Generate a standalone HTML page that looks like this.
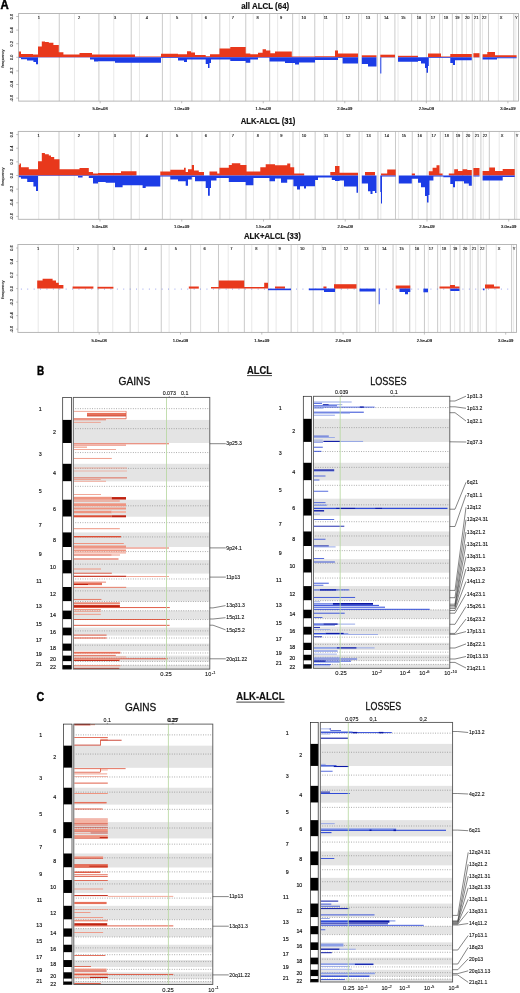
<!DOCTYPE html>
<html><head><meta charset="utf-8"><title>ALCL copy number figure</title>
<style>html,body{margin:0;padding:0;background:#fff;overflow:hidden}svg{display:block;will-change:transform}</style></head>
<body><svg width="520" height="993" viewBox="0 0 520 993" font-family="Liberation Sans, sans-serif">
<rect x="0" y="0" width="520" height="993" fill="#fff"/>
<text x="241.2" y="8.7" font-size="9.6" font-weight="bold" textLength="48.0" lengthAdjust="spacingAndGlyphs" fill="#111" stroke="#111" stroke-width="0.2">all ALCL (64)</text>
<line x1="38.99" y1="13.5" x2="38.99" y2="101.1" stroke="#e2e2e2" stroke-width="0.8"/>
<line x1="74.47" y1="13.5" x2="74.47" y2="101.1" stroke="#e2e2e2" stroke-width="0.8"/>
<line x1="113.76" y1="13.5" x2="113.76" y2="101.1" stroke="#e2e2e2" stroke-width="0.8"/>
<line x1="139.44" y1="13.5" x2="139.44" y2="101.1" stroke="#e2e2e2" stroke-width="0.8"/>
<line x1="170.29" y1="13.5" x2="170.29" y2="101.1" stroke="#e2e2e2" stroke-width="0.8"/>
<line x1="201.85" y1="13.5" x2="201.85" y2="101.1" stroke="#e2e2e2" stroke-width="0.8"/>
<line x1="229.58" y1="13.5" x2="229.58" y2="101.1" stroke="#e2e2e2" stroke-width="0.8"/>
<line x1="253.20" y1="13.5" x2="253.20" y2="101.1" stroke="#e2e2e2" stroke-width="0.8"/>
<line x1="277.63" y1="13.5" x2="277.63" y2="101.1" stroke="#e2e2e2" stroke-width="0.8"/>
<line x1="299.22" y1="13.5" x2="299.22" y2="101.1" stroke="#e2e2e2" stroke-width="0.8"/>
<line x1="323.53" y1="13.5" x2="323.53" y2="101.1" stroke="#e2e2e2" stroke-width="0.8"/>
<line x1="342.63" y1="13.5" x2="342.63" y2="101.1" stroke="#e2e2e2" stroke-width="0.8"/>
<line x1="361.54" y1="13.5" x2="361.54" y2="101.1" stroke="#e2e2e2" stroke-width="0.8"/>
<line x1="380.28" y1="13.5" x2="380.28" y2="101.1" stroke="#e2e2e2" stroke-width="0.8"/>
<line x1="398.02" y1="13.5" x2="398.02" y2="101.1" stroke="#e2e2e2" stroke-width="0.8"/>
<line x1="417.61" y1="13.5" x2="417.61" y2="101.1" stroke="#e2e2e2" stroke-width="0.8"/>
<line x1="430.29" y1="13.5" x2="430.29" y2="101.1" stroke="#e2e2e2" stroke-width="0.8"/>
<line x1="442.43" y1="13.5" x2="442.43" y2="101.1" stroke="#e2e2e2" stroke-width="0.8"/>
<line x1="456.68" y1="13.5" x2="456.68" y2="101.1" stroke="#e2e2e2" stroke-width="0.8"/>
<line x1="466.48" y1="13.5" x2="466.48" y2="101.1" stroke="#e2e2e2" stroke-width="0.8"/>
<line x1="474.43" y1="13.5" x2="474.43" y2="101.1" stroke="#e2e2e2" stroke-width="0.8"/>
<line x1="482.53" y1="13.5" x2="482.53" y2="101.1" stroke="#e2e2e2" stroke-width="0.8"/>
<line x1="498.38" y1="13.5" x2="498.38" y2="101.1" stroke="#e2e2e2" stroke-width="0.8"/>
<line x1="515.86" y1="13.5" x2="515.86" y2="101.1" stroke="#e2e2e2" stroke-width="0.8"/>
<line x1="59.25" y1="13.5" x2="59.25" y2="101.1" stroke="#c4c4c4" stroke-width="0.9"/>
<line x1="98.92" y1="13.5" x2="98.92" y2="101.1" stroke="#c4c4c4" stroke-width="0.9"/>
<line x1="131.22" y1="13.5" x2="131.22" y2="101.1" stroke="#c4c4c4" stroke-width="0.9"/>
<line x1="162.39" y1="13.5" x2="162.39" y2="101.1" stroke="#c4c4c4" stroke-width="0.9"/>
<line x1="191.90" y1="13.5" x2="191.90" y2="101.1" stroke="#c4c4c4" stroke-width="0.9"/>
<line x1="219.81" y1="13.5" x2="219.81" y2="101.1" stroke="#c4c4c4" stroke-width="0.9"/>
<line x1="245.77" y1="13.5" x2="245.77" y2="101.1" stroke="#c4c4c4" stroke-width="0.9"/>
<line x1="269.64" y1="13.5" x2="269.64" y2="101.1" stroke="#c4c4c4" stroke-width="0.9"/>
<line x1="292.67" y1="13.5" x2="292.67" y2="101.1" stroke="#c4c4c4" stroke-width="0.9"/>
<line x1="314.77" y1="13.5" x2="314.77" y2="101.1" stroke="#c4c4c4" stroke-width="0.9"/>
<line x1="336.79" y1="13.5" x2="336.79" y2="101.1" stroke="#c4c4c4" stroke-width="0.9"/>
<line x1="358.62" y1="13.5" x2="358.62" y2="101.1" stroke="#c4c4c4" stroke-width="0.9"/>
<line x1="377.41" y1="13.5" x2="377.41" y2="101.1" stroke="#c4c4c4" stroke-width="0.9"/>
<line x1="394.92" y1="13.5" x2="394.92" y2="101.1" stroke="#c4c4c4" stroke-width="0.9"/>
<line x1="411.64" y1="13.5" x2="411.64" y2="101.1" stroke="#c4c4c4" stroke-width="0.9"/>
<line x1="426.38" y1="13.5" x2="426.38" y2="101.1" stroke="#c4c4c4" stroke-width="0.9"/>
<line x1="439.62" y1="13.5" x2="439.62" y2="101.1" stroke="#c4c4c4" stroke-width="0.9"/>
<line x1="452.35" y1="13.5" x2="452.35" y2="101.1" stroke="#c4c4c4" stroke-width="0.9"/>
<line x1="462.00" y1="13.5" x2="462.00" y2="101.1" stroke="#c4c4c4" stroke-width="0.9"/>
<line x1="472.28" y1="13.5" x2="472.28" y2="101.1" stroke="#c4c4c4" stroke-width="0.9"/>
<line x1="480.13" y1="13.5" x2="480.13" y2="101.1" stroke="#c4c4c4" stroke-width="0.9"/>
<line x1="488.50" y1="13.5" x2="488.50" y2="101.1" stroke="#c4c4c4" stroke-width="0.9"/>
<line x1="513.82" y1="13.5" x2="513.82" y2="101.1" stroke="#c4c4c4" stroke-width="0.9"/>
<text x="38.93" y="19.1" font-size="4.0" text-anchor="middle" fill="#1a1a1a" stroke="#1a1a1a" stroke-width="0.15">1</text>
<text x="79.09" y="19.1" font-size="4.0" text-anchor="middle" fill="#1a1a1a" stroke="#1a1a1a" stroke-width="0.15">2</text>
<text x="115.07" y="19.1" font-size="4.0" text-anchor="middle" fill="#1a1a1a" stroke="#1a1a1a" stroke-width="0.15">3</text>
<text x="146.80" y="19.1" font-size="4.0" text-anchor="middle" fill="#1a1a1a" stroke="#1a1a1a" stroke-width="0.15">4</text>
<text x="177.15" y="19.1" font-size="4.0" text-anchor="middle" fill="#1a1a1a" stroke="#1a1a1a" stroke-width="0.15">5</text>
<text x="205.86" y="19.1" font-size="4.0" text-anchor="middle" fill="#1a1a1a" stroke="#1a1a1a" stroke-width="0.15">6</text>
<text x="232.79" y="19.1" font-size="4.0" text-anchor="middle" fill="#1a1a1a" stroke="#1a1a1a" stroke-width="0.15">7</text>
<text x="257.70" y="19.1" font-size="4.0" text-anchor="middle" fill="#1a1a1a" stroke="#1a1a1a" stroke-width="0.15">8</text>
<text x="281.15" y="19.1" font-size="4.0" text-anchor="middle" fill="#1a1a1a" stroke="#1a1a1a" stroke-width="0.15">9</text>
<text x="303.72" y="19.1" font-size="4.0" text-anchor="middle" fill="#1a1a1a" stroke="#1a1a1a" stroke-width="0.15">10</text>
<text x="325.78" y="19.1" font-size="4.0" text-anchor="middle" fill="#1a1a1a" stroke="#1a1a1a" stroke-width="0.15">11</text>
<text x="347.71" y="19.1" font-size="4.0" text-anchor="middle" fill="#1a1a1a" stroke="#1a1a1a" stroke-width="0.15">12</text>
<text x="368.02" y="19.1" font-size="4.0" text-anchor="middle" fill="#1a1a1a" stroke="#1a1a1a" stroke-width="0.15">13</text>
<text x="386.16" y="19.1" font-size="4.0" text-anchor="middle" fill="#1a1a1a" stroke="#1a1a1a" stroke-width="0.15">14</text>
<text x="403.28" y="19.1" font-size="4.0" text-anchor="middle" fill="#1a1a1a" stroke="#1a1a1a" stroke-width="0.15">15</text>
<text x="419.01" y="19.1" font-size="4.0" text-anchor="middle" fill="#1a1a1a" stroke="#1a1a1a" stroke-width="0.15">16</text>
<text x="433.00" y="19.1" font-size="4.0" text-anchor="middle" fill="#1a1a1a" stroke="#1a1a1a" stroke-width="0.15">17</text>
<text x="445.99" y="19.1" font-size="4.0" text-anchor="middle" fill="#1a1a1a" stroke="#1a1a1a" stroke-width="0.15">18</text>
<text x="457.18" y="19.1" font-size="4.0" text-anchor="middle" fill="#1a1a1a" stroke="#1a1a1a" stroke-width="0.15">19</text>
<text x="467.14" y="19.1" font-size="4.0" text-anchor="middle" fill="#1a1a1a" stroke="#1a1a1a" stroke-width="0.15">20</text>
<text x="476.20" y="19.1" font-size="4.0" text-anchor="middle" fill="#1a1a1a" stroke="#1a1a1a" stroke-width="0.15">21</text>
<text x="484.31" y="19.1" font-size="4.0" text-anchor="middle" fill="#1a1a1a" stroke="#1a1a1a" stroke-width="0.15">22</text>
<text x="501.16" y="19.1" font-size="4.0" text-anchor="middle" fill="#1a1a1a" stroke="#1a1a1a" stroke-width="0.15">X</text>
<text x="516.22" y="19.1" font-size="4.0" text-anchor="middle" fill="#1a1a1a" stroke="#1a1a1a" stroke-width="0.15">Y</text>
<polygon points="18.50,57.30 18.50,51.60 21.00,51.60 21.00,54.00 33.00,54.00 33.00,54.60 38.00,54.60 38.00,46.50 41.80,46.50 41.80,41.50 45.00,41.50 45.00,42.00 48.80,42.00 48.80,42.70 53.40,42.70 53.40,45.00 58.80,45.00 58.80,52.20 63.40,52.20 63.40,54.50 79.50,54.50 79.50,52.90 92.00,52.90 92.00,54.50 98.00,54.50 98.00,54.60 135.00,54.60 135.00,56.50 161.00,56.50 161.00,53.80 178.00,53.80 178.00,54.20 187.00,54.20 187.00,51.20 191.00,51.20 191.00,52.50 195.00,52.50 195.00,55.00 205.70,55.00 205.70,56.30 210.00,56.30 210.00,54.20 219.50,54.20 219.50,48.50 230.30,48.50 230.30,47.00 245.70,47.00 245.70,53.50 250.30,53.50 250.30,54.20 258.00,54.20 258.00,52.70 262.60,52.70 262.60,49.20 266.00,49.20 266.00,50.50 270.30,50.50 270.30,53.20 275.00,53.20 275.00,51.60 291.80,51.60 291.80,56.50 315.00,56.50 315.00,56.20 335.00,56.20 335.00,50.40 338.00,50.40 338.00,53.50 358.00,53.50 358.00,57.30" fill="#e8381c"/>
<polygon points="361.80,57.30 361.80,55.30 376.50,55.30 376.50,57.30" fill="#e8381c"/>
<polygon points="380.30,57.30 380.30,54.70 395.00,54.70 395.00,57.30" fill="#e8381c"/>
<polygon points="398.00,57.30 398.00,55.80 418.00,55.80 418.00,57.30" fill="#e8381c"/>
<polygon points="428.00,57.30 428.00,53.50 441.00,53.50 441.00,56.50 450.30,56.50 450.30,54.00 471.80,54.00 471.80,57.30" fill="#e8381c"/>
<polygon points="473.40,57.30 473.40,53.20 479.50,53.20 479.50,57.30" fill="#e8381c"/>
<polygon points="482.60,57.30 482.60,54.20 487.30,54.20 487.30,52.00 495.00,52.00 495.00,55.20 516.60,55.20 516.60,57.30" fill="#e8381c"/>
<polygon points="18.50,57.30 18.50,58.00 21.00,58.00 21.00,59.20 27.00,59.20 27.00,60.40 33.40,60.40 33.40,62.00 36.00,62.00 36.00,64.20 38.00,64.20 38.00,57.50 90.00,57.50 90.00,59.60 94.00,59.60 94.00,61.50 98.00,61.50 98.00,61.20 115.00,61.20 115.00,62.70 135.00,62.70 135.00,62.80 161.00,62.80 161.00,58.00 178.00,58.00 178.00,60.40 184.00,60.40 184.00,62.00 187.00,62.00 187.00,59.60 205.70,59.60 205.70,64.00 208.00,64.00 208.00,68.00 209.50,68.00 209.50,63.00 211.00,63.00 211.00,59.60 230.30,59.60 230.30,61.00 245.70,61.00 245.70,62.70 250.30,62.70 250.30,59.60 258.00,59.60 258.00,57.80 269.50,57.80 269.50,61.50 285.00,61.50 285.00,63.00 295.00,63.00 295.00,64.50 299.00,64.50 299.00,62.50 315.00,62.50 315.00,60.00 338.00,60.00 338.00,58.00 342.60,58.00 342.60,63.50 358.00,63.50 358.00,57.30" fill="#1c3ce6"/>
<polygon points="361.80,57.30 361.80,64.00 368.00,64.00 368.00,66.50 376.50,66.50 376.50,57.30" fill="#1c3ce6"/>
<polygon points="380.30,57.30 380.30,73.50 381.30,73.50 381.30,57.60 395.00,57.60 395.00,57.30" fill="#1c3ce6"/>
<polygon points="398.00,57.30 398.00,61.80 418.00,61.80 418.00,61.00 421.00,61.00 421.00,63.50 425.00,63.50 425.00,68.00 426.50,68.00 426.50,72.70 428.00,72.70 428.00,66.00 428.80,66.00 428.80,58.00 450.30,58.00 450.30,63.00 453.00,63.00 453.00,65.00 455.00,65.00 455.00,60.30 471.80,60.30 471.80,57.30" fill="#1c3ce6"/>
<polygon points="473.40,57.30 473.40,57.50 479.50,57.50 479.50,57.30" fill="#1c3ce6"/>
<polygon points="482.60,57.30 482.60,59.50 497.00,59.50 497.00,58.20 516.60,58.20 516.60,57.30" fill="#1c3ce6"/>
<rect x="18.60" y="13.5" width="499.90" height="87.6" fill="none" stroke="#b0b0b0" stroke-width="0.9"/>
<line x1="16.2" y1="16.50" x2="18.6" y2="16.50" stroke="#999" stroke-width="0.6"/>
<text transform="translate(13.0,16.50) rotate(-90)" font-size="3.9" text-anchor="middle" fill="#222" stroke="#222" stroke-width="0.15">0.6</text>
<line x1="16.2" y1="30.10" x2="18.6" y2="30.10" stroke="#999" stroke-width="0.6"/>
<text transform="translate(13.0,30.10) rotate(-90)" font-size="3.9" text-anchor="middle" fill="#222" stroke="#222" stroke-width="0.15">0.4</text>
<line x1="16.2" y1="43.70" x2="18.6" y2="43.70" stroke="#999" stroke-width="0.6"/>
<text transform="translate(13.0,43.70) rotate(-90)" font-size="3.9" text-anchor="middle" fill="#222" stroke="#222" stroke-width="0.15">0.2</text>
<line x1="16.2" y1="57.30" x2="18.6" y2="57.30" stroke="#999" stroke-width="0.6"/>
<text transform="translate(13.0,57.30) rotate(-90)" font-size="3.9" text-anchor="middle" fill="#222" stroke="#222" stroke-width="0.15">0.0</text>
<line x1="16.2" y1="70.90" x2="18.6" y2="70.90" stroke="#999" stroke-width="0.6"/>
<text transform="translate(13.0,70.90) rotate(-90)" font-size="3.9" text-anchor="middle" fill="#222" stroke="#222" stroke-width="0.15">-0.2</text>
<line x1="16.2" y1="84.50" x2="18.6" y2="84.50" stroke="#999" stroke-width="0.6"/>
<text transform="translate(13.0,84.50) rotate(-90)" font-size="3.9" text-anchor="middle" fill="#222" stroke="#222" stroke-width="0.15">-0.4</text>
<line x1="16.2" y1="98.10" x2="18.6" y2="98.10" stroke="#999" stroke-width="0.6"/>
<text transform="translate(13.0,98.10) rotate(-90)" font-size="3.9" text-anchor="middle" fill="#222" stroke="#222" stroke-width="0.15">-0.6</text>
<text transform="translate(4.3,58.40) rotate(-90)" font-size="4.15" text-anchor="middle" fill="#222" stroke="#222" stroke-width="0.12">frequency</text>
<line x1="100.15" y1="101.1" x2="100.15" y2="103.3" stroke="#999" stroke-width="0.6"/>
<text x="100.15" y="110.2" font-size="4.2" text-anchor="middle" fill="#1a1a1a" stroke="#1a1a1a" stroke-width="0.18">5.0e+08</text>
<line x1="181.70" y1="101.1" x2="181.70" y2="103.3" stroke="#999" stroke-width="0.6"/>
<text x="181.70" y="110.2" font-size="4.2" text-anchor="middle" fill="#1a1a1a" stroke="#1a1a1a" stroke-width="0.18">1.0e+09</text>
<line x1="263.25" y1="101.1" x2="263.25" y2="103.3" stroke="#999" stroke-width="0.6"/>
<text x="263.25" y="110.2" font-size="4.2" text-anchor="middle" fill="#1a1a1a" stroke="#1a1a1a" stroke-width="0.18">1.5e+09</text>
<line x1="344.80" y1="101.1" x2="344.80" y2="103.3" stroke="#999" stroke-width="0.6"/>
<text x="344.80" y="110.2" font-size="4.2" text-anchor="middle" fill="#1a1a1a" stroke="#1a1a1a" stroke-width="0.18">2.0e+09</text>
<line x1="426.35" y1="101.1" x2="426.35" y2="103.3" stroke="#999" stroke-width="0.6"/>
<text x="426.35" y="110.2" font-size="4.2" text-anchor="middle" fill="#1a1a1a" stroke="#1a1a1a" stroke-width="0.18">2.5e+09</text>
<line x1="507.90" y1="101.1" x2="507.90" y2="103.3" stroke="#999" stroke-width="0.6"/>
<text x="507.90" y="110.2" font-size="4.2" text-anchor="middle" fill="#1a1a1a" stroke="#1a1a1a" stroke-width="0.18">3.0e+09</text>
<text x="240.8" y="123.8" font-size="9.6" font-weight="bold" textLength="54.6" lengthAdjust="spacingAndGlyphs" fill="#111" stroke="#111" stroke-width="0.2">ALK-ALCL (31)</text>
<line x1="38.69" y1="131.4" x2="38.69" y2="219.3" stroke="#e2e2e2" stroke-width="0.8"/>
<line x1="74.26" y1="131.4" x2="74.26" y2="219.3" stroke="#e2e2e2" stroke-width="0.8"/>
<line x1="113.64" y1="131.4" x2="113.64" y2="219.3" stroke="#e2e2e2" stroke-width="0.8"/>
<line x1="139.38" y1="131.4" x2="139.38" y2="219.3" stroke="#e2e2e2" stroke-width="0.8"/>
<line x1="170.31" y1="131.4" x2="170.31" y2="219.3" stroke="#e2e2e2" stroke-width="0.8"/>
<line x1="201.95" y1="131.4" x2="201.95" y2="219.3" stroke="#e2e2e2" stroke-width="0.8"/>
<line x1="229.75" y1="131.4" x2="229.75" y2="219.3" stroke="#e2e2e2" stroke-width="0.8"/>
<line x1="253.43" y1="131.4" x2="253.43" y2="219.3" stroke="#e2e2e2" stroke-width="0.8"/>
<line x1="277.91" y1="131.4" x2="277.91" y2="219.3" stroke="#e2e2e2" stroke-width="0.8"/>
<line x1="299.56" y1="131.4" x2="299.56" y2="219.3" stroke="#e2e2e2" stroke-width="0.8"/>
<line x1="323.93" y1="131.4" x2="323.93" y2="219.3" stroke="#e2e2e2" stroke-width="0.8"/>
<line x1="343.08" y1="131.4" x2="343.08" y2="219.3" stroke="#e2e2e2" stroke-width="0.8"/>
<line x1="362.03" y1="131.4" x2="362.03" y2="219.3" stroke="#e2e2e2" stroke-width="0.8"/>
<line x1="380.82" y1="131.4" x2="380.82" y2="219.3" stroke="#e2e2e2" stroke-width="0.8"/>
<line x1="398.60" y1="131.4" x2="398.60" y2="219.3" stroke="#e2e2e2" stroke-width="0.8"/>
<line x1="418.24" y1="131.4" x2="418.24" y2="219.3" stroke="#e2e2e2" stroke-width="0.8"/>
<line x1="430.95" y1="131.4" x2="430.95" y2="219.3" stroke="#e2e2e2" stroke-width="0.8"/>
<line x1="443.11" y1="131.4" x2="443.11" y2="219.3" stroke="#e2e2e2" stroke-width="0.8"/>
<line x1="457.40" y1="131.4" x2="457.40" y2="219.3" stroke="#e2e2e2" stroke-width="0.8"/>
<line x1="467.23" y1="131.4" x2="467.23" y2="219.3" stroke="#e2e2e2" stroke-width="0.8"/>
<line x1="475.20" y1="131.4" x2="475.20" y2="219.3" stroke="#e2e2e2" stroke-width="0.8"/>
<line x1="483.31" y1="131.4" x2="483.31" y2="219.3" stroke="#e2e2e2" stroke-width="0.8"/>
<line x1="499.21" y1="131.4" x2="499.21" y2="219.3" stroke="#e2e2e2" stroke-width="0.8"/>
<line x1="516.73" y1="131.4" x2="516.73" y2="219.3" stroke="#e2e2e2" stroke-width="0.8"/>
<line x1="59.00" y1="131.4" x2="59.00" y2="219.3" stroke="#c4c4c4" stroke-width="0.9"/>
<line x1="98.77" y1="131.4" x2="98.77" y2="219.3" stroke="#c4c4c4" stroke-width="0.9"/>
<line x1="131.14" y1="131.4" x2="131.14" y2="219.3" stroke="#c4c4c4" stroke-width="0.9"/>
<line x1="162.39" y1="131.4" x2="162.39" y2="219.3" stroke="#c4c4c4" stroke-width="0.9"/>
<line x1="191.98" y1="131.4" x2="191.98" y2="219.3" stroke="#c4c4c4" stroke-width="0.9"/>
<line x1="219.95" y1="131.4" x2="219.95" y2="219.3" stroke="#c4c4c4" stroke-width="0.9"/>
<line x1="245.97" y1="131.4" x2="245.97" y2="219.3" stroke="#c4c4c4" stroke-width="0.9"/>
<line x1="269.90" y1="131.4" x2="269.90" y2="219.3" stroke="#c4c4c4" stroke-width="0.9"/>
<line x1="292.99" y1="131.4" x2="292.99" y2="219.3" stroke="#c4c4c4" stroke-width="0.9"/>
<line x1="315.15" y1="131.4" x2="315.15" y2="219.3" stroke="#c4c4c4" stroke-width="0.9"/>
<line x1="337.22" y1="131.4" x2="337.22" y2="219.3" stroke="#c4c4c4" stroke-width="0.9"/>
<line x1="359.11" y1="131.4" x2="359.11" y2="219.3" stroke="#c4c4c4" stroke-width="0.9"/>
<line x1="377.94" y1="131.4" x2="377.94" y2="219.3" stroke="#c4c4c4" stroke-width="0.9"/>
<line x1="395.49" y1="131.4" x2="395.49" y2="219.3" stroke="#c4c4c4" stroke-width="0.9"/>
<line x1="412.25" y1="131.4" x2="412.25" y2="219.3" stroke="#c4c4c4" stroke-width="0.9"/>
<line x1="427.03" y1="131.4" x2="427.03" y2="219.3" stroke="#c4c4c4" stroke-width="0.9"/>
<line x1="440.30" y1="131.4" x2="440.30" y2="219.3" stroke="#c4c4c4" stroke-width="0.9"/>
<line x1="453.07" y1="131.4" x2="453.07" y2="219.3" stroke="#c4c4c4" stroke-width="0.9"/>
<line x1="462.74" y1="131.4" x2="462.74" y2="219.3" stroke="#c4c4c4" stroke-width="0.9"/>
<line x1="473.04" y1="131.4" x2="473.04" y2="219.3" stroke="#c4c4c4" stroke-width="0.9"/>
<line x1="480.91" y1="131.4" x2="480.91" y2="219.3" stroke="#c4c4c4" stroke-width="0.9"/>
<line x1="489.30" y1="131.4" x2="489.30" y2="219.3" stroke="#c4c4c4" stroke-width="0.9"/>
<line x1="514.69" y1="131.4" x2="514.69" y2="219.3" stroke="#c4c4c4" stroke-width="0.9"/>
<text x="38.63" y="137.0" font-size="4.0" text-anchor="middle" fill="#1a1a1a" stroke="#1a1a1a" stroke-width="0.15">1</text>
<text x="78.88" y="137.0" font-size="4.0" text-anchor="middle" fill="#1a1a1a" stroke="#1a1a1a" stroke-width="0.15">2</text>
<text x="114.95" y="137.0" font-size="4.0" text-anchor="middle" fill="#1a1a1a" stroke="#1a1a1a" stroke-width="0.15">3</text>
<text x="146.77" y="137.0" font-size="4.0" text-anchor="middle" fill="#1a1a1a" stroke="#1a1a1a" stroke-width="0.15">4</text>
<text x="177.19" y="137.0" font-size="4.0" text-anchor="middle" fill="#1a1a1a" stroke="#1a1a1a" stroke-width="0.15">5</text>
<text x="205.96" y="137.0" font-size="4.0" text-anchor="middle" fill="#1a1a1a" stroke="#1a1a1a" stroke-width="0.15">6</text>
<text x="232.96" y="137.0" font-size="4.0" text-anchor="middle" fill="#1a1a1a" stroke="#1a1a1a" stroke-width="0.15">7</text>
<text x="257.94" y="137.0" font-size="4.0" text-anchor="middle" fill="#1a1a1a" stroke="#1a1a1a" stroke-width="0.15">8</text>
<text x="281.45" y="137.0" font-size="4.0" text-anchor="middle" fill="#1a1a1a" stroke="#1a1a1a" stroke-width="0.15">9</text>
<text x="304.07" y="137.0" font-size="4.0" text-anchor="middle" fill="#1a1a1a" stroke="#1a1a1a" stroke-width="0.15">10</text>
<text x="326.19" y="137.0" font-size="4.0" text-anchor="middle" fill="#1a1a1a" stroke="#1a1a1a" stroke-width="0.15">11</text>
<text x="348.17" y="137.0" font-size="4.0" text-anchor="middle" fill="#1a1a1a" stroke="#1a1a1a" stroke-width="0.15">12</text>
<text x="368.52" y="137.0" font-size="4.0" text-anchor="middle" fill="#1a1a1a" stroke="#1a1a1a" stroke-width="0.15">13</text>
<text x="386.71" y="137.0" font-size="4.0" text-anchor="middle" fill="#1a1a1a" stroke="#1a1a1a" stroke-width="0.15">14</text>
<text x="403.87" y="137.0" font-size="4.0" text-anchor="middle" fill="#1a1a1a" stroke="#1a1a1a" stroke-width="0.15">15</text>
<text x="419.64" y="137.0" font-size="4.0" text-anchor="middle" fill="#1a1a1a" stroke="#1a1a1a" stroke-width="0.15">16</text>
<text x="433.66" y="137.0" font-size="4.0" text-anchor="middle" fill="#1a1a1a" stroke="#1a1a1a" stroke-width="0.15">17</text>
<text x="446.69" y="137.0" font-size="4.0" text-anchor="middle" fill="#1a1a1a" stroke="#1a1a1a" stroke-width="0.15">18</text>
<text x="457.90" y="137.0" font-size="4.0" text-anchor="middle" fill="#1a1a1a" stroke="#1a1a1a" stroke-width="0.15">19</text>
<text x="467.89" y="137.0" font-size="4.0" text-anchor="middle" fill="#1a1a1a" stroke="#1a1a1a" stroke-width="0.15">20</text>
<text x="476.98" y="137.0" font-size="4.0" text-anchor="middle" fill="#1a1a1a" stroke="#1a1a1a" stroke-width="0.15">21</text>
<text x="485.10" y="137.0" font-size="4.0" text-anchor="middle" fill="#1a1a1a" stroke="#1a1a1a" stroke-width="0.15">22</text>
<text x="501.99" y="137.0" font-size="4.0" text-anchor="middle" fill="#1a1a1a" stroke="#1a1a1a" stroke-width="0.15">X</text>
<text x="517.09" y="137.0" font-size="4.0" text-anchor="middle" fill="#1a1a1a" stroke="#1a1a1a" stroke-width="0.15">Y</text>
<polygon points="18.50,175.50 18.50,165.00 19.50,165.00 19.50,163.50 21.00,163.50 21.00,167.30 28.80,167.30 28.80,169.30 38.00,169.30 38.00,161.20 41.80,161.20 41.80,153.00 44.90,153.00 44.90,154.20 48.80,154.20 48.80,155.50 51.00,155.50 51.00,157.00 54.20,157.00 54.20,159.20 59.50,159.20 59.50,169.30 79.50,169.30 79.50,168.00 88.80,168.00 88.80,172.00 93.00,172.00 93.00,173.50 98.00,173.50 98.00,173.00 121.00,173.00 121.00,171.20 136.50,171.20 136.50,175.50" fill="#e8381c"/>
<polygon points="160.30,175.50 160.30,171.50 170.30,171.50 170.30,169.80 184.00,169.80 184.00,167.80 185.70,167.80 185.70,172.00 188.00,172.00 188.00,169.30 191.80,169.30 191.80,165.00 194.00,165.00 194.00,170.40 198.80,170.40 198.80,172.00 204.00,172.00 204.00,175.50" fill="#e8381c"/>
<polygon points="209.50,175.50 209.50,171.50 217.20,171.50 217.20,173.50 219.50,173.50 219.50,167.80 228.80,167.80 228.80,165.00 231.80,165.00 231.80,163.20 240.30,163.20 240.30,165.00 246.50,165.00 246.50,171.50 260.30,171.50 260.30,167.30 265.70,167.30 265.70,164.20 275.00,164.20 275.00,165.30 287.20,165.30 287.20,163.50 290.30,163.50 290.30,167.30 294.20,167.30 294.20,173.50 304.20,173.50 304.20,175.50" fill="#e8381c"/>
<polygon points="330.30,175.50 330.30,172.00 335.00,172.00 335.00,166.00 339.50,166.00 339.50,172.70 358.00,172.70 358.00,175.50" fill="#e8381c"/>
<polygon points="365.00,175.50 365.00,172.00 375.00,172.00 375.00,175.50" fill="#e8381c"/>
<polygon points="381.00,175.50 381.00,173.50 387.20,173.50 387.20,169.60 395.70,169.60 395.70,175.50" fill="#e8381c"/>
<polygon points="411.80,175.50 411.80,173.50 415.00,173.50 415.00,175.50" fill="#e8381c"/>
<polygon points="428.80,175.50 428.80,171.20 432.60,171.20 432.60,167.80 436.50,167.80 436.50,165.30 439.50,165.30 439.50,173.50 442.60,173.50 442.60,175.50" fill="#e8381c"/>
<polygon points="448.80,175.50 448.80,173.50 454.20,173.50 454.20,169.30 458.00,169.30 458.00,171.00 462.60,171.00 462.60,169.30 467.20,169.30 467.20,170.00 471.80,170.00 471.80,175.50" fill="#e8381c"/>
<polygon points="473.40,175.50 473.40,168.00 479.50,168.00 479.50,175.50" fill="#e8381c"/>
<polygon points="482.60,175.50 482.60,171.00 489.20,171.00 489.20,167.50 495.00,167.50 495.00,171.00 502.70,171.00 502.70,169.00 514.70,169.00 514.70,175.50" fill="#e8381c"/>
<polygon points="18.50,175.50 18.50,177.30 21.00,177.30 21.00,178.80 27.20,178.80 27.20,182.00 33.40,182.00 33.40,186.50 36.00,186.50 36.00,191.00 38.00,191.00 38.00,176.00 78.00,176.00 78.00,177.50 82.60,177.50 82.60,176.00 88.80,176.00 88.80,178.00 93.00,178.00 93.00,183.50 98.00,183.50 98.00,182.00 105.70,182.00 105.70,182.70 115.00,182.70 115.00,187.30 122.60,187.30 122.60,185.30 142.60,185.30 142.60,188.00 145.70,188.00 145.70,186.50 160.30,186.50 160.30,176.50 170.30,176.50 170.30,179.60 178.00,179.60 178.00,181.20 185.70,181.20 185.70,185.80 188.00,185.80 188.00,179.60 191.80,179.60 191.80,177.00 195.00,177.00 195.00,181.20 205.70,181.20 205.70,188.00 208.00,188.00 208.00,195.80 209.80,195.80 209.80,188.00 211.00,188.00 211.00,180.40 216.50,180.40 216.50,178.00 228.80,178.00 228.80,182.00 245.70,182.00 245.70,185.30 253.40,185.30 253.40,178.00 269.50,178.00 269.50,181.20 275.00,181.20 275.00,178.50 281.00,178.50 281.00,182.70 287.20,182.70 287.20,179.50 293.40,179.50 293.40,186.30 297.00,186.30 297.00,189.60 300.00,189.60 300.00,186.30 304.00,186.30 304.00,188.50 306.00,188.50 306.00,186.30 315.00,186.30 315.00,180.00 318.00,180.00 318.00,177.50 331.80,177.50 331.80,180.00 335.00,180.00 335.00,181.00 339.50,181.00 339.50,180.40 344.00,180.40 344.00,186.50 356.50,186.50 356.50,192.70 358.00,192.70 358.00,175.50" fill="#1c3ce6"/>
<polygon points="361.80,175.50 361.80,183.50 368.00,183.50 368.00,191.20 370.50,191.20 370.50,194.00 372.50,194.00 372.50,191.00 375.00,191.00 375.00,193.00 376.50,193.00 376.50,175.50" fill="#1c3ce6"/>
<polygon points="380.30,175.50 380.30,192.00 381.00,192.00 381.00,203.50 382.00,203.50 382.00,176.50 395.70,176.50 395.70,175.50" fill="#1c3ce6"/>
<polygon points="398.80,175.50 398.80,183.50 411.80,183.50 411.80,178.80 418.00,178.80 418.00,182.70 421.00,182.70 421.00,187.30 425.00,187.30 425.00,196.00 427.00,196.00 427.00,202.50 428.50,202.50 428.50,195.00 429.50,195.00 429.50,180.40 433.40,180.40 433.40,176.50 443.40,176.50 443.40,177.30 450.30,177.30 450.30,184.00 453.00,184.00 453.00,187.30 455.00,187.30 455.00,181.20 464.00,181.20 464.00,183.50 468.80,183.50 468.80,185.80 471.80,185.80 471.80,175.50" fill="#1c3ce6"/>
<polygon points="473.40,175.50 473.40,176.50 479.50,176.50 479.50,175.50" fill="#1c3ce6"/>
<polygon points="482.60,175.50 482.60,180.50 502.70,180.50 502.70,177.00 514.70,177.00 514.70,175.50" fill="#1c3ce6"/>
<rect x="18.25" y="131.4" width="502.35" height="87.9" fill="none" stroke="#b0b0b0" stroke-width="0.9"/>
<line x1="16.2" y1="134.58" x2="18.2" y2="134.58" stroke="#999" stroke-width="0.6"/>
<text transform="translate(13.0,134.58) rotate(-90)" font-size="3.9" text-anchor="middle" fill="#222" stroke="#222" stroke-width="0.15">0.6</text>
<line x1="16.2" y1="148.22" x2="18.2" y2="148.22" stroke="#999" stroke-width="0.6"/>
<text transform="translate(13.0,148.22) rotate(-90)" font-size="3.9" text-anchor="middle" fill="#222" stroke="#222" stroke-width="0.15">0.4</text>
<line x1="16.2" y1="161.86" x2="18.2" y2="161.86" stroke="#999" stroke-width="0.6"/>
<text transform="translate(13.0,161.86) rotate(-90)" font-size="3.9" text-anchor="middle" fill="#222" stroke="#222" stroke-width="0.15">0.2</text>
<line x1="16.2" y1="175.50" x2="18.2" y2="175.50" stroke="#999" stroke-width="0.6"/>
<text transform="translate(13.0,175.50) rotate(-90)" font-size="3.9" text-anchor="middle" fill="#222" stroke="#222" stroke-width="0.15">0.0</text>
<line x1="16.2" y1="189.14" x2="18.2" y2="189.14" stroke="#999" stroke-width="0.6"/>
<text transform="translate(13.0,189.14) rotate(-90)" font-size="3.9" text-anchor="middle" fill="#222" stroke="#222" stroke-width="0.15">-0.2</text>
<line x1="16.2" y1="202.78" x2="18.2" y2="202.78" stroke="#999" stroke-width="0.6"/>
<text transform="translate(13.0,202.78) rotate(-90)" font-size="3.9" text-anchor="middle" fill="#222" stroke="#222" stroke-width="0.15">-0.4</text>
<line x1="16.2" y1="216.42" x2="18.2" y2="216.42" stroke="#999" stroke-width="0.6"/>
<text transform="translate(13.0,216.42) rotate(-90)" font-size="3.9" text-anchor="middle" fill="#222" stroke="#222" stroke-width="0.15">-0.6</text>
<text transform="translate(4.3,176.45) rotate(-90)" font-size="4.15" text-anchor="middle" fill="#222" stroke="#222" stroke-width="0.12">frequency</text>
<line x1="100.00" y1="219.3" x2="100.00" y2="221.5" stroke="#999" stroke-width="0.6"/>
<text x="100.00" y="228.4" font-size="4.2" text-anchor="middle" fill="#1a1a1a" stroke="#1a1a1a" stroke-width="0.18">5.0e+08</text>
<line x1="181.75" y1="219.3" x2="181.75" y2="221.5" stroke="#999" stroke-width="0.6"/>
<text x="181.75" y="228.4" font-size="4.2" text-anchor="middle" fill="#1a1a1a" stroke="#1a1a1a" stroke-width="0.18">1.0e+09</text>
<line x1="263.50" y1="219.3" x2="263.50" y2="221.5" stroke="#999" stroke-width="0.6"/>
<text x="263.50" y="228.4" font-size="4.2" text-anchor="middle" fill="#1a1a1a" stroke="#1a1a1a" stroke-width="0.18">1.5e+09</text>
<line x1="345.25" y1="219.3" x2="345.25" y2="221.5" stroke="#999" stroke-width="0.6"/>
<text x="345.25" y="228.4" font-size="4.2" text-anchor="middle" fill="#1a1a1a" stroke="#1a1a1a" stroke-width="0.18">2.0e+09</text>
<line x1="427.00" y1="219.3" x2="427.00" y2="221.5" stroke="#999" stroke-width="0.6"/>
<text x="427.00" y="228.4" font-size="4.2" text-anchor="middle" fill="#1a1a1a" stroke="#1a1a1a" stroke-width="0.18">2.5e+09</text>
<line x1="508.75" y1="219.3" x2="508.75" y2="221.5" stroke="#999" stroke-width="0.6"/>
<text x="508.75" y="228.4" font-size="4.2" text-anchor="middle" fill="#1a1a1a" stroke="#1a1a1a" stroke-width="0.18">3.0e+09</text>
<text x="244.0" y="238.8" font-size="9.6" font-weight="bold" textLength="56.8" lengthAdjust="spacingAndGlyphs" fill="#111" stroke="#111" stroke-width="0.2">ALK+ALCL (33)</text>
<line x1="38.22" y1="244.5" x2="38.22" y2="332.4" stroke="#e2e2e2" stroke-width="0.8"/>
<line x1="73.60" y1="244.5" x2="73.60" y2="332.4" stroke="#e2e2e2" stroke-width="0.8"/>
<line x1="112.77" y1="244.5" x2="112.77" y2="332.4" stroke="#e2e2e2" stroke-width="0.8"/>
<line x1="138.37" y1="244.5" x2="138.37" y2="332.4" stroke="#e2e2e2" stroke-width="0.8"/>
<line x1="169.12" y1="244.5" x2="169.12" y2="332.4" stroke="#e2e2e2" stroke-width="0.8"/>
<line x1="200.59" y1="244.5" x2="200.59" y2="332.4" stroke="#e2e2e2" stroke-width="0.8"/>
<line x1="228.23" y1="244.5" x2="228.23" y2="332.4" stroke="#e2e2e2" stroke-width="0.8"/>
<line x1="251.78" y1="244.5" x2="251.78" y2="332.4" stroke="#e2e2e2" stroke-width="0.8"/>
<line x1="276.13" y1="244.5" x2="276.13" y2="332.4" stroke="#e2e2e2" stroke-width="0.8"/>
<line x1="297.66" y1="244.5" x2="297.66" y2="332.4" stroke="#e2e2e2" stroke-width="0.8"/>
<line x1="321.90" y1="244.5" x2="321.90" y2="332.4" stroke="#e2e2e2" stroke-width="0.8"/>
<line x1="340.94" y1="244.5" x2="340.94" y2="332.4" stroke="#e2e2e2" stroke-width="0.8"/>
<line x1="359.79" y1="244.5" x2="359.79" y2="332.4" stroke="#e2e2e2" stroke-width="0.8"/>
<line x1="378.47" y1="244.5" x2="378.47" y2="332.4" stroke="#e2e2e2" stroke-width="0.8"/>
<line x1="396.15" y1="244.5" x2="396.15" y2="332.4" stroke="#e2e2e2" stroke-width="0.8"/>
<line x1="415.69" y1="244.5" x2="415.69" y2="332.4" stroke="#e2e2e2" stroke-width="0.8"/>
<line x1="428.33" y1="244.5" x2="428.33" y2="332.4" stroke="#e2e2e2" stroke-width="0.8"/>
<line x1="440.43" y1="244.5" x2="440.43" y2="332.4" stroke="#e2e2e2" stroke-width="0.8"/>
<line x1="454.63" y1="244.5" x2="454.63" y2="332.4" stroke="#e2e2e2" stroke-width="0.8"/>
<line x1="464.41" y1="244.5" x2="464.41" y2="332.4" stroke="#e2e2e2" stroke-width="0.8"/>
<line x1="472.33" y1="244.5" x2="472.33" y2="332.4" stroke="#e2e2e2" stroke-width="0.8"/>
<line x1="480.40" y1="244.5" x2="480.40" y2="332.4" stroke="#e2e2e2" stroke-width="0.8"/>
<line x1="496.21" y1="244.5" x2="496.21" y2="332.4" stroke="#e2e2e2" stroke-width="0.8"/>
<line x1="513.63" y1="244.5" x2="513.63" y2="332.4" stroke="#e2e2e2" stroke-width="0.8"/>
<line x1="58.43" y1="244.5" x2="58.43" y2="332.4" stroke="#c4c4c4" stroke-width="0.9"/>
<line x1="97.97" y1="244.5" x2="97.97" y2="332.4" stroke="#c4c4c4" stroke-width="0.9"/>
<line x1="130.17" y1="244.5" x2="130.17" y2="332.4" stroke="#c4c4c4" stroke-width="0.9"/>
<line x1="161.25" y1="244.5" x2="161.25" y2="332.4" stroke="#c4c4c4" stroke-width="0.9"/>
<line x1="190.67" y1="244.5" x2="190.67" y2="332.4" stroke="#c4c4c4" stroke-width="0.9"/>
<line x1="218.49" y1="244.5" x2="218.49" y2="332.4" stroke="#c4c4c4" stroke-width="0.9"/>
<line x1="244.37" y1="244.5" x2="244.37" y2="332.4" stroke="#c4c4c4" stroke-width="0.9"/>
<line x1="268.17" y1="244.5" x2="268.17" y2="332.4" stroke="#c4c4c4" stroke-width="0.9"/>
<line x1="291.13" y1="244.5" x2="291.13" y2="332.4" stroke="#c4c4c4" stroke-width="0.9"/>
<line x1="313.17" y1="244.5" x2="313.17" y2="332.4" stroke="#c4c4c4" stroke-width="0.9"/>
<line x1="335.12" y1="244.5" x2="335.12" y2="332.4" stroke="#c4c4c4" stroke-width="0.9"/>
<line x1="356.88" y1="244.5" x2="356.88" y2="332.4" stroke="#c4c4c4" stroke-width="0.9"/>
<line x1="375.61" y1="244.5" x2="375.61" y2="332.4" stroke="#c4c4c4" stroke-width="0.9"/>
<line x1="393.06" y1="244.5" x2="393.06" y2="332.4" stroke="#c4c4c4" stroke-width="0.9"/>
<line x1="409.74" y1="244.5" x2="409.74" y2="332.4" stroke="#c4c4c4" stroke-width="0.9"/>
<line x1="424.43" y1="244.5" x2="424.43" y2="332.4" stroke="#c4c4c4" stroke-width="0.9"/>
<line x1="437.63" y1="244.5" x2="437.63" y2="332.4" stroke="#c4c4c4" stroke-width="0.9"/>
<line x1="450.32" y1="244.5" x2="450.32" y2="332.4" stroke="#c4c4c4" stroke-width="0.9"/>
<line x1="459.94" y1="244.5" x2="459.94" y2="332.4" stroke="#c4c4c4" stroke-width="0.9"/>
<line x1="470.19" y1="244.5" x2="470.19" y2="332.4" stroke="#c4c4c4" stroke-width="0.9"/>
<line x1="478.01" y1="244.5" x2="478.01" y2="332.4" stroke="#c4c4c4" stroke-width="0.9"/>
<line x1="486.36" y1="244.5" x2="486.36" y2="332.4" stroke="#c4c4c4" stroke-width="0.9"/>
<line x1="511.60" y1="244.5" x2="511.60" y2="332.4" stroke="#c4c4c4" stroke-width="0.9"/>
<text x="38.16" y="250.1" font-size="4.0" text-anchor="middle" fill="#1a1a1a" stroke="#1a1a1a" stroke-width="0.15">1</text>
<text x="78.20" y="250.1" font-size="4.0" text-anchor="middle" fill="#1a1a1a" stroke="#1a1a1a" stroke-width="0.15">2</text>
<text x="114.07" y="250.1" font-size="4.0" text-anchor="middle" fill="#1a1a1a" stroke="#1a1a1a" stroke-width="0.15">3</text>
<text x="145.71" y="250.1" font-size="4.0" text-anchor="middle" fill="#1a1a1a" stroke="#1a1a1a" stroke-width="0.15">4</text>
<text x="175.96" y="250.1" font-size="4.0" text-anchor="middle" fill="#1a1a1a" stroke="#1a1a1a" stroke-width="0.15">5</text>
<text x="204.58" y="250.1" font-size="4.0" text-anchor="middle" fill="#1a1a1a" stroke="#1a1a1a" stroke-width="0.15">6</text>
<text x="231.43" y="250.1" font-size="4.0" text-anchor="middle" fill="#1a1a1a" stroke="#1a1a1a" stroke-width="0.15">7</text>
<text x="256.27" y="250.1" font-size="4.0" text-anchor="middle" fill="#1a1a1a" stroke="#1a1a1a" stroke-width="0.15">8</text>
<text x="279.65" y="250.1" font-size="4.0" text-anchor="middle" fill="#1a1a1a" stroke="#1a1a1a" stroke-width="0.15">9</text>
<text x="302.15" y="250.1" font-size="4.0" text-anchor="middle" fill="#1a1a1a" stroke="#1a1a1a" stroke-width="0.15">10</text>
<text x="324.14" y="250.1" font-size="4.0" text-anchor="middle" fill="#1a1a1a" stroke="#1a1a1a" stroke-width="0.15">11</text>
<text x="346.00" y="250.1" font-size="4.0" text-anchor="middle" fill="#1a1a1a" stroke="#1a1a1a" stroke-width="0.15">12</text>
<text x="366.25" y="250.1" font-size="4.0" text-anchor="middle" fill="#1a1a1a" stroke="#1a1a1a" stroke-width="0.15">13</text>
<text x="384.34" y="250.1" font-size="4.0" text-anchor="middle" fill="#1a1a1a" stroke="#1a1a1a" stroke-width="0.15">14</text>
<text x="401.40" y="250.1" font-size="4.0" text-anchor="middle" fill="#1a1a1a" stroke="#1a1a1a" stroke-width="0.15">15</text>
<text x="417.08" y="250.1" font-size="4.0" text-anchor="middle" fill="#1a1a1a" stroke="#1a1a1a" stroke-width="0.15">16</text>
<text x="431.03" y="250.1" font-size="4.0" text-anchor="middle" fill="#1a1a1a" stroke="#1a1a1a" stroke-width="0.15">17</text>
<text x="443.98" y="250.1" font-size="4.0" text-anchor="middle" fill="#1a1a1a" stroke="#1a1a1a" stroke-width="0.15">18</text>
<text x="455.13" y="250.1" font-size="4.0" text-anchor="middle" fill="#1a1a1a" stroke="#1a1a1a" stroke-width="0.15">19</text>
<text x="465.06" y="250.1" font-size="4.0" text-anchor="middle" fill="#1a1a1a" stroke="#1a1a1a" stroke-width="0.15">20</text>
<text x="474.10" y="250.1" font-size="4.0" text-anchor="middle" fill="#1a1a1a" stroke="#1a1a1a" stroke-width="0.15">21</text>
<text x="482.18" y="250.1" font-size="4.0" text-anchor="middle" fill="#1a1a1a" stroke="#1a1a1a" stroke-width="0.15">22</text>
<text x="498.98" y="250.1" font-size="4.0" text-anchor="middle" fill="#1a1a1a" stroke="#1a1a1a" stroke-width="0.15">X</text>
<text x="514.00" y="250.1" font-size="4.0" text-anchor="middle" fill="#1a1a1a" stroke="#1a1a1a" stroke-width="0.15">Y</text>
<line x1="20.9" y1="289.10" x2="513.5" y2="289.10" stroke="#5060e0" stroke-width="0.9" stroke-dasharray="0.9,5.5" opacity="0.7"/>
<polygon points="37.20,288.60 37.20,280.40 42.60,280.40 42.60,278.80 52.60,278.80 52.60,280.40 56.00,280.40 56.00,282.70 58.80,282.70 58.80,285.00 63.40,285.00 63.40,288.60" fill="#e8381c"/>
<polygon points="72.60,288.60 72.60,286.50 93.40,286.50 93.40,288.60" fill="#e8381c"/>
<polygon points="97.50,288.60 97.50,286.80 113.40,286.80 113.40,288.60" fill="#e8381c"/>
<polygon points="188.80,288.60 188.80,286.50 198.80,286.50 198.80,288.60" fill="#e8381c"/>
<polygon points="211.00,288.60 211.00,287.00 218.80,287.00 218.80,280.40 244.20,280.40 244.20,287.00 264.20,287.00 264.20,282.70 268.00,282.70 268.00,288.60" fill="#e8381c"/>
<polygon points="275.00,288.60 275.00,286.50 285.00,286.50 285.00,288.60" fill="#e8381c"/>
<polygon points="323.40,288.60 323.40,286.50 326.50,286.50 326.50,288.60" fill="#e8381c"/>
<polygon points="334.00,288.60 334.00,284.20 356.50,284.20 356.50,288.60" fill="#e8381c"/>
<polygon points="395.70,288.60 395.70,285.50 410.30,285.50 410.30,288.60" fill="#e8381c"/>
<polygon points="439.50,288.60 439.50,286.50 450.00,286.50 450.00,285.00 455.00,285.00 455.00,286.50 459.50,286.50 459.50,288.60" fill="#e8381c"/>
<polygon points="485.00,288.60 485.00,284.50 494.00,284.50 494.00,286.50 499.80,286.50 499.80,288.60" fill="#e8381c"/>
<polygon points="268.00,288.60 268.00,290.20 291.00,290.20 291.00,288.60" fill="#1c3ce6"/>
<polygon points="308.80,288.60 308.80,290.20 324.00,290.20 324.00,292.00 335.00,292.00 335.00,288.60" fill="#1c3ce6"/>
<polygon points="359.50,288.60 359.50,291.50 375.70,291.50 375.70,288.60" fill="#1c3ce6"/>
<polygon points="378.80,288.60 378.80,304.20 379.60,304.20 379.60,288.60" fill="#1c3ce6"/>
<polygon points="399.50,288.60 399.50,292.00 405.00,292.00 405.00,294.20 408.00,294.20 408.00,292.00 410.30,292.00 410.30,288.60" fill="#1c3ce6"/>
<polygon points="423.40,288.60 423.40,292.30 428.00,292.30 428.00,288.60" fill="#1c3ce6"/>
<polygon points="450.30,288.60 450.30,291.00 459.50,291.00 459.50,288.60" fill="#1c3ce6"/>
<polygon points="483.00,288.60 483.00,290.20 484.50,290.20 484.50,288.60" fill="#1c3ce6"/>
<rect x="17.90" y="244.5" width="498.60" height="87.9" fill="none" stroke="#b0b0b0" stroke-width="0.9"/>
<line x1="16.2" y1="248.04" x2="17.9" y2="248.04" stroke="#999" stroke-width="0.6"/>
<text transform="translate(13.0,248.04) rotate(-90)" font-size="3.9" text-anchor="middle" fill="#222" stroke="#222" stroke-width="0.15">0.6</text>
<line x1="16.2" y1="261.56" x2="17.9" y2="261.56" stroke="#999" stroke-width="0.6"/>
<text transform="translate(13.0,261.56) rotate(-90)" font-size="3.9" text-anchor="middle" fill="#222" stroke="#222" stroke-width="0.15">0.4</text>
<line x1="16.2" y1="275.08" x2="17.9" y2="275.08" stroke="#999" stroke-width="0.6"/>
<text transform="translate(13.0,275.08) rotate(-90)" font-size="3.9" text-anchor="middle" fill="#222" stroke="#222" stroke-width="0.15">0.2</text>
<line x1="16.2" y1="288.60" x2="17.9" y2="288.60" stroke="#999" stroke-width="0.6"/>
<text transform="translate(13.0,288.60) rotate(-90)" font-size="3.9" text-anchor="middle" fill="#222" stroke="#222" stroke-width="0.15">0.0</text>
<line x1="16.2" y1="302.12" x2="17.9" y2="302.12" stroke="#999" stroke-width="0.6"/>
<text transform="translate(13.0,302.12) rotate(-90)" font-size="3.9" text-anchor="middle" fill="#222" stroke="#222" stroke-width="0.15">-0.2</text>
<line x1="16.2" y1="315.64" x2="17.9" y2="315.64" stroke="#999" stroke-width="0.6"/>
<text transform="translate(13.0,315.64) rotate(-90)" font-size="3.9" text-anchor="middle" fill="#222" stroke="#222" stroke-width="0.15">-0.4</text>
<line x1="16.2" y1="329.16" x2="17.9" y2="329.16" stroke="#999" stroke-width="0.6"/>
<text transform="translate(13.0,329.16) rotate(-90)" font-size="3.9" text-anchor="middle" fill="#222" stroke="#222" stroke-width="0.15">-0.6</text>
<text transform="translate(4.3,289.55) rotate(-90)" font-size="4.15" text-anchor="middle" fill="#222" stroke="#222" stroke-width="0.12">frequency</text>
<line x1="99.20" y1="332.4" x2="99.20" y2="334.6" stroke="#999" stroke-width="0.6"/>
<text x="99.20" y="341.5" font-size="4.2" text-anchor="middle" fill="#1a1a1a" stroke="#1a1a1a" stroke-width="0.18">5.0e+08</text>
<line x1="180.50" y1="332.4" x2="180.50" y2="334.6" stroke="#999" stroke-width="0.6"/>
<text x="180.50" y="341.5" font-size="4.2" text-anchor="middle" fill="#1a1a1a" stroke="#1a1a1a" stroke-width="0.18">1.0e+09</text>
<line x1="261.80" y1="332.4" x2="261.80" y2="334.6" stroke="#999" stroke-width="0.6"/>
<text x="261.80" y="341.5" font-size="4.2" text-anchor="middle" fill="#1a1a1a" stroke="#1a1a1a" stroke-width="0.18">1.5e+09</text>
<line x1="343.10" y1="332.4" x2="343.10" y2="334.6" stroke="#999" stroke-width="0.6"/>
<text x="343.10" y="341.5" font-size="4.2" text-anchor="middle" fill="#1a1a1a" stroke="#1a1a1a" stroke-width="0.18">2.0e+09</text>
<line x1="424.40" y1="332.4" x2="424.40" y2="334.6" stroke="#999" stroke-width="0.6"/>
<text x="424.40" y="341.5" font-size="4.2" text-anchor="middle" fill="#1a1a1a" stroke="#1a1a1a" stroke-width="0.18">2.5e+09</text>
<line x1="505.70" y1="332.4" x2="505.70" y2="334.6" stroke="#999" stroke-width="0.6"/>
<text x="505.70" y="341.5" font-size="4.2" text-anchor="middle" fill="#1a1a1a" stroke="#1a1a1a" stroke-width="0.18">3.0e+09</text>
<rect x="73.30" y="419.90" width="136.50" height="23.09" fill="#e4e4e4"/>
<rect x="73.30" y="463.80" width="136.50" height="17.61" fill="#e4e4e4"/>
<rect x="73.30" y="499.70" width="136.50" height="17.01" fill="#e4e4e4"/>
<rect x="73.30" y="532.41" width="136.50" height="14.59" fill="#e4e4e4"/>
<rect x="73.30" y="560.09" width="136.50" height="13.50" fill="#e4e4e4"/>
<rect x="73.30" y="586.99" width="136.50" height="14.35" fill="#e4e4e4"/>
<rect x="73.30" y="610.60" width="136.50" height="8.75" fill="#e4e4e4"/>
<rect x="73.30" y="627.61" width="136.50" height="7.99" fill="#e4e4e4"/>
<rect x="73.30" y="643.59" width="136.50" height="7.25" fill="#e4e4e4"/>
<rect x="73.30" y="655.60" width="136.50" height="5.76" fill="#e4e4e4"/>
<rect x="73.30" y="665.11" width="136.50" height="3.99" fill="#e4e4e4"/>
<line x1="75.30" y1="408.65" x2="209.80" y2="408.65" stroke="#8e8e8e" stroke-width="0.8" stroke-dasharray="0.9,1.5"/>
<line x1="75.30" y1="428.67" x2="209.80" y2="428.67" stroke="#8e8e8e" stroke-width="0.8" stroke-dasharray="0.9,1.5"/>
<line x1="75.30" y1="452.56" x2="209.80" y2="452.56" stroke="#8e8e8e" stroke-width="0.8" stroke-dasharray="0.9,1.5"/>
<line x1="75.30" y1="468.38" x2="209.80" y2="468.38" stroke="#8e8e8e" stroke-width="0.8" stroke-dasharray="0.9,1.5"/>
<line x1="75.30" y1="486.35" x2="209.80" y2="486.35" stroke="#8e8e8e" stroke-width="0.8" stroke-dasharray="0.9,1.5"/>
<line x1="75.30" y1="505.82" x2="209.80" y2="505.82" stroke="#8e8e8e" stroke-width="0.8" stroke-dasharray="0.9,1.5"/>
<line x1="75.30" y1="522.67" x2="209.80" y2="522.67" stroke="#8e8e8e" stroke-width="0.8" stroke-dasharray="0.9,1.5"/>
<line x1="75.30" y1="536.93" x2="209.80" y2="536.93" stroke="#8e8e8e" stroke-width="0.8" stroke-dasharray="0.9,1.5"/>
<line x1="75.30" y1="551.58" x2="209.80" y2="551.58" stroke="#8e8e8e" stroke-width="0.8" stroke-dasharray="0.9,1.5"/>
<line x1="75.30" y1="564.15" x2="209.80" y2="564.15" stroke="#8e8e8e" stroke-width="0.8" stroke-dasharray="0.9,1.5"/>
<line x1="75.30" y1="578.96" x2="209.80" y2="578.96" stroke="#8e8e8e" stroke-width="0.8" stroke-dasharray="0.9,1.5"/>
<line x1="75.30" y1="590.87" x2="209.80" y2="590.87" stroke="#8e8e8e" stroke-width="0.8" stroke-dasharray="0.9,1.5"/>
<line x1="75.30" y1="601.52" x2="209.80" y2="601.52" stroke="#8e8e8e" stroke-width="0.8" stroke-dasharray="0.9,1.5"/>
<line x1="75.30" y1="610.78" x2="209.80" y2="610.78" stroke="#8e8e8e" stroke-width="0.8" stroke-dasharray="0.9,1.5"/>
<line x1="75.30" y1="619.52" x2="209.80" y2="619.52" stroke="#8e8e8e" stroke-width="0.8" stroke-dasharray="0.9,1.5"/>
<line x1="75.30" y1="630.89" x2="209.80" y2="630.89" stroke="#8e8e8e" stroke-width="0.8" stroke-dasharray="0.9,1.5"/>
<line x1="75.30" y1="638.00" x2="209.80" y2="638.00" stroke="#8e8e8e" stroke-width="0.8" stroke-dasharray="0.9,1.5"/>
<line x1="75.30" y1="645.18" x2="209.80" y2="645.18" stroke="#8e8e8e" stroke-width="0.8" stroke-dasharray="0.9,1.5"/>
<line x1="75.30" y1="652.98" x2="209.80" y2="652.98" stroke="#8e8e8e" stroke-width="0.8" stroke-dasharray="0.9,1.5"/>
<line x1="75.30" y1="658.13" x2="209.80" y2="658.13" stroke="#8e8e8e" stroke-width="0.8" stroke-dasharray="0.9,1.5"/>
<line x1="75.30" y1="661.43" x2="209.80" y2="661.43" stroke="#8e8e8e" stroke-width="0.8" stroke-dasharray="0.9,1.5"/>
<line x1="75.30" y1="665.19" x2="209.80" y2="665.19" stroke="#8e8e8e" stroke-width="0.8" stroke-dasharray="0.9,1.5"/>
<rect x="73.80" y="410.90" width="52.40" height="0.80" fill="#ee9480"/>
<rect x="87.00" y="412.90" width="39.00" height="3.00" fill="#e6705a"/>
<rect x="87.00" y="415.65" width="39.00" height="0.70" fill="#c02210"/>
<rect x="73.80" y="418.40" width="52.40" height="0.80" fill="#dc4e36"/>
<rect x="73.80" y="419.35" width="32.20" height="0.90" fill="#e6705a"/>
<rect x="73.80" y="421.90" width="27.00" height="0.80" fill="#ee9480"/>
<rect x="125.80" y="411.25" width="0.60" height="7.50" fill="#dc4e36"/>
<rect x="73.80" y="443.40" width="95.20" height="0.80" fill="#dc4e36"/>
<rect x="73.80" y="444.75" width="52.20" height="0.70" fill="#dc4e36"/>
<rect x="73.80" y="446.45" width="13.20" height="1.50" fill="#f4b4a4"/>
<rect x="73.80" y="449.20" width="42.20" height="0.80" fill="#ee9480"/>
<rect x="73.80" y="457.95" width="38.00" height="0.90" fill="#ee9480"/>
<rect x="73.80" y="467.65" width="53.20" height="0.70" fill="#ee9480"/>
<rect x="73.80" y="470.70" width="53.20" height="0.60" fill="#ee9480"/>
<rect x="73.80" y="477.50" width="53.20" height="0.80" fill="#dc4e36"/>
<rect x="73.80" y="479.20" width="26.90" height="0.80" fill="#ee9480"/>
<rect x="73.80" y="480.80" width="32.20" height="0.80" fill="#ee9480"/>
<rect x="73.80" y="494.20" width="27.20" height="0.80" fill="#ee9480"/>
<rect x="73.80" y="496.80" width="37.90" height="3.00" fill="#ee9480"/>
<rect x="111.70" y="497.05" width="14.30" height="2.50" fill="#c02210"/>
<rect x="73.80" y="500.40" width="46.00" height="1.20" fill="#ee9480"/>
<rect x="73.80" y="503.30" width="52.20" height="3.00" fill="#ee9480"/>
<rect x="73.80" y="507.50" width="52.20" height="2.00" fill="#ee9480"/>
<rect x="73.80" y="510.75" width="37.90" height="2.50" fill="#ee9480"/>
<rect x="111.70" y="511.00" width="14.30" height="2.00" fill="#f4b4a4"/>
<rect x="73.80" y="515.30" width="37.90" height="2.00" fill="#dc4e36"/>
<rect x="111.70" y="515.30" width="14.30" height="2.00" fill="#c02210"/>
<rect x="73.80" y="528.20" width="46.00" height="1.00" fill="#ee9480"/>
<rect x="73.80" y="536.00" width="47.20" height="1.40" fill="#dc4e36"/>
<rect x="73.80" y="543.00" width="50.00" height="1.00" fill="#ee9480"/>
<rect x="73.80" y="545.50" width="52.20" height="2.00" fill="#ee9480"/>
<rect x="73.80" y="547.60" width="95.20" height="0.80" fill="#dc4e36"/>
<rect x="73.80" y="549.50" width="52.20" height="2.00" fill="#ee9480"/>
<rect x="73.80" y="552.40" width="52.20" height="1.00" fill="#ee9480"/>
<rect x="73.80" y="554.50" width="37.90" height="1.00" fill="#dc4e36"/>
<rect x="111.70" y="554.50" width="8.30" height="1.00" fill="#ee9480"/>
<rect x="73.80" y="558.50" width="44.70" height="1.00" fill="#dc4e36"/>
<rect x="73.80" y="568.50" width="27.20" height="1.00" fill="#ee9480"/>
<rect x="73.80" y="572.75" width="38.00" height="0.90" fill="#dc4e36"/>
<rect x="73.80" y="575.75" width="52.40" height="1.10" fill="#c02210"/>
<rect x="126.20" y="576.10" width="42.80" height="0.80" fill="#ee9480"/>
<rect x="73.80" y="581.75" width="32.20" height="0.70" fill="#dc4e36"/>
<rect x="73.80" y="582.70" width="28.20" height="2.40" fill="#e6705a"/>
<rect x="73.80" y="584.00" width="14.20" height="1.00" fill="#c02210"/>
<rect x="73.80" y="586.85" width="52.40" height="0.90" fill="#e6705a"/>
<rect x="73.80" y="598.95" width="27.60" height="0.90" fill="#e6705a"/>
<rect x="73.80" y="602.80" width="46.10" height="1.60" fill="#ee9480"/>
<rect x="73.80" y="602.60" width="46.10" height="0.60" fill="#dc4e36"/>
<rect x="73.80" y="605.10" width="46.10" height="2.40" fill="#c02210"/>
<rect x="73.80" y="607.15" width="96.00" height="0.90" fill="#dc4e36"/>
<rect x="73.80" y="609.50" width="27.20" height="0.60" fill="#dc4e36"/>
<rect x="73.80" y="609.20" width="27.00" height="1.00" fill="#ee9480"/>
<rect x="73.80" y="611.15" width="27.00" height="0.70" fill="#ee9480"/>
<rect x="73.80" y="613.85" width="27.00" height="0.90" fill="#ee9480"/>
<rect x="73.80" y="619.05" width="95.80" height="0.90" fill="#dc4e36"/>
<rect x="73.80" y="624.85" width="95.80" height="0.90" fill="#dc4e36"/>
<rect x="73.80" y="634.65" width="32.80" height="0.90" fill="#dc4e36"/>
<rect x="73.80" y="637.40" width="32.80" height="1.20" fill="#e6705a"/>
<rect x="73.80" y="651.80" width="46.60" height="1.80" fill="#e6705a"/>
<rect x="73.80" y="654.90" width="42.00" height="0.80" fill="#dc4e36"/>
<rect x="73.80" y="656.60" width="52.40" height="0.80" fill="#ee9480"/>
<rect x="73.80" y="658.35" width="93.90" height="0.90" fill="#dc4e36"/>
<rect x="73.80" y="658.70" width="46.20" height="1.80" fill="#ee9480"/>
<rect x="73.80" y="660.05" width="45.50" height="0.90" fill="#c02210"/>
<rect x="73.80" y="665.10" width="46.60" height="1.20" fill="#ee9480"/>
<rect x="73.80" y="667.85" width="45.50" height="0.90" fill="#c02210"/>
<line x1="166.50" y1="397.40" x2="166.50" y2="669.10" stroke="#b8d8a2" stroke-width="0.85"/>
<rect x="73.30" y="397.40" width="136.50" height="271.70" fill="none" stroke="#555" stroke-width="0.9"/>
<rect x="62.70" y="397.40" width="8.80" height="22.50" fill="#fff"/>
<rect x="62.70" y="419.90" width="8.80" height="23.09" fill="#000"/>
<rect x="62.70" y="442.99" width="8.80" height="20.81" fill="#fff"/>
<rect x="62.70" y="463.80" width="8.80" height="17.61" fill="#000"/>
<rect x="62.70" y="481.41" width="8.80" height="18.29" fill="#fff"/>
<rect x="62.70" y="499.70" width="8.80" height="17.01" fill="#000"/>
<rect x="62.70" y="516.70" width="8.80" height="15.70" fill="#fff"/>
<rect x="62.70" y="532.41" width="8.80" height="14.59" fill="#000"/>
<rect x="62.70" y="547.00" width="8.80" height="13.10" fill="#fff"/>
<rect x="62.70" y="560.09" width="8.80" height="13.50" fill="#000"/>
<rect x="62.70" y="573.60" width="8.80" height="13.39" fill="#fff"/>
<rect x="62.70" y="586.99" width="8.80" height="14.35" fill="#000"/>
<rect x="62.70" y="601.34" width="8.80" height="9.26" fill="#fff"/>
<rect x="62.70" y="610.60" width="8.80" height="8.75" fill="#000"/>
<rect x="62.70" y="619.35" width="8.80" height="8.26" fill="#fff"/>
<rect x="62.70" y="627.61" width="8.80" height="7.99" fill="#000"/>
<rect x="62.70" y="635.60" width="8.80" height="7.99" fill="#fff"/>
<rect x="62.70" y="643.59" width="8.80" height="7.25" fill="#000"/>
<rect x="62.70" y="650.84" width="8.80" height="4.75" fill="#fff"/>
<rect x="62.70" y="655.60" width="8.80" height="5.76" fill="#000"/>
<rect x="62.70" y="661.36" width="8.80" height="3.75" fill="#fff"/>
<rect x="62.70" y="665.11" width="8.80" height="3.99" fill="#000"/>
<rect x="62.70" y="397.40" width="8.80" height="271.70" fill="none" stroke="#222" stroke-width="0.7"/>
<text x="41.80" y="410.95" font-size="5.3" text-anchor="end" fill="#111" stroke="#111" stroke-width="0.15">1</text>
<text x="56.00" y="433.74" font-size="5.3" text-anchor="end" fill="#111" stroke="#111" stroke-width="0.15">2</text>
<text x="41.80" y="455.70" font-size="5.3" text-anchor="end" fill="#111" stroke="#111" stroke-width="0.15">3</text>
<text x="56.00" y="474.91" font-size="5.3" text-anchor="end" fill="#111" stroke="#111" stroke-width="0.15">4</text>
<text x="41.80" y="492.85" font-size="5.3" text-anchor="end" fill="#111" stroke="#111" stroke-width="0.15">5</text>
<text x="56.00" y="510.50" font-size="5.3" text-anchor="end" fill="#111" stroke="#111" stroke-width="0.15">6</text>
<text x="41.80" y="526.86" font-size="5.3" text-anchor="end" fill="#111" stroke="#111" stroke-width="0.15">7</text>
<text x="56.00" y="542.00" font-size="5.3" text-anchor="end" fill="#111" stroke="#111" stroke-width="0.15">8</text>
<text x="41.80" y="555.85" font-size="5.3" text-anchor="end" fill="#111" stroke="#111" stroke-width="0.15">9</text>
<text x="56.00" y="569.15" font-size="5.3" text-anchor="end" fill="#111" stroke="#111" stroke-width="0.15">10</text>
<text x="41.80" y="582.59" font-size="5.3" text-anchor="end" fill="#111" stroke="#111" stroke-width="0.15">11</text>
<text x="56.00" y="596.47" font-size="5.3" text-anchor="end" fill="#111" stroke="#111" stroke-width="0.15">12</text>
<text x="41.80" y="608.27" font-size="5.3" text-anchor="end" fill="#111" stroke="#111" stroke-width="0.15">13</text>
<text x="56.00" y="617.28" font-size="5.3" text-anchor="end" fill="#111" stroke="#111" stroke-width="0.15">14</text>
<text x="41.80" y="625.78" font-size="5.3" text-anchor="end" fill="#111" stroke="#111" stroke-width="0.15">15</text>
<text x="56.00" y="633.91" font-size="5.3" text-anchor="end" fill="#111" stroke="#111" stroke-width="0.15">16</text>
<text x="41.80" y="641.89" font-size="5.3" text-anchor="end" fill="#111" stroke="#111" stroke-width="0.15">17</text>
<text x="56.00" y="649.51" font-size="5.3" text-anchor="end" fill="#111" stroke="#111" stroke-width="0.15">18</text>
<text x="41.80" y="655.52" font-size="5.3" text-anchor="end" fill="#111" stroke="#111" stroke-width="0.15">19</text>
<text x="56.00" y="660.78" font-size="5.3" text-anchor="end" fill="#111" stroke="#111" stroke-width="0.15">20</text>
<text x="41.80" y="665.53" font-size="5.3" text-anchor="end" fill="#111" stroke="#111" stroke-width="0.15">21</text>
<text x="56.00" y="669.40" font-size="5.3" text-anchor="end" fill="#111" stroke="#111" stroke-width="0.15">22</text>
<text x="169.30" y="395.30" font-size="5.3" text-anchor="middle" fill="#111" stroke="#111" stroke-width="0.1">0.073</text>
<line x1="169.30" y1="397.40" x2="169.30" y2="396.20" stroke="#555" stroke-width="0.6"/>
<text x="184.75" y="395.30" font-size="5.3" text-anchor="middle" fill="#111" stroke="#111" stroke-width="0.1">0.1</text>
<line x1="184.75" y1="397.40" x2="184.75" y2="396.20" stroke="#555" stroke-width="0.6"/>
<text x="166.00" y="676.00" font-size="5.8" text-anchor="middle" fill="#111" stroke="#111" stroke-width="0.1">0.25</text>
<text x="210.30" y="676.00" font-size="5.5" text-anchor="middle" fill="#111" stroke="#111" stroke-width="0.1">10<tspan font-size="4.0" dx="0.7" dy="-2.4">-1</tspan></text>
<polyline points="209.80,443.70 225.80,443.70" fill="none" stroke="#333" stroke-width="0.6"/>
<text x="226.30" y="445.40" font-size="5.1" fill="#111" stroke="#111" stroke-width="0.1">3p25.3</text>
<polyline points="209.80,547.90 225.80,547.90" fill="none" stroke="#333" stroke-width="0.6"/>
<text x="226.30" y="549.60" font-size="5.1" fill="#111" stroke="#111" stroke-width="0.1">9p24.1</text>
<polyline points="209.80,577.10 225.80,577.10" fill="none" stroke="#333" stroke-width="0.6"/>
<text x="226.30" y="578.80" font-size="5.1" fill="#111" stroke="#111" stroke-width="0.1">11p13</text>
<polyline points="209.80,607.90 213.00,607.90 225.50,605.60" fill="none" stroke="#333" stroke-width="0.6"/>
<text x="226.30" y="607.30" font-size="5.1" fill="#111" stroke="#111" stroke-width="0.1">13q31.3</text>
<polyline points="209.80,619.00 213.00,619.00 225.50,617.70" fill="none" stroke="#333" stroke-width="0.6"/>
<text x="226.30" y="619.40" font-size="5.1" fill="#111" stroke="#111" stroke-width="0.1">15q11.2</text>
<polyline points="209.80,625.20 213.00,625.20 225.50,629.80" fill="none" stroke="#333" stroke-width="0.6"/>
<text x="226.30" y="631.50" font-size="5.1" fill="#111" stroke="#111" stroke-width="0.1">15q25.2</text>
<polyline points="209.80,658.80 225.80,658.80" fill="none" stroke="#333" stroke-width="0.6"/>
<text x="226.30" y="660.50" font-size="5.1" fill="#111" stroke="#111" stroke-width="0.1">20q11.22</text>
<rect x="313.40" y="418.82" width="136.40" height="23.12" fill="#e4e4e4"/>
<rect x="313.40" y="462.78" width="136.40" height="17.63" fill="#e4e4e4"/>
<rect x="313.40" y="498.71" width="136.40" height="17.03" fill="#e4e4e4"/>
<rect x="313.40" y="531.46" width="136.40" height="14.61" fill="#e4e4e4"/>
<rect x="313.40" y="559.17" width="136.40" height="13.52" fill="#e4e4e4"/>
<rect x="313.40" y="586.10" width="136.40" height="14.36" fill="#e4e4e4"/>
<rect x="313.40" y="609.74" width="136.40" height="8.76" fill="#e4e4e4"/>
<rect x="313.40" y="626.77" width="136.40" height="8.00" fill="#e4e4e4"/>
<rect x="313.40" y="642.76" width="136.40" height="7.26" fill="#e4e4e4"/>
<rect x="313.40" y="654.78" width="136.40" height="5.77" fill="#e4e4e4"/>
<rect x="313.40" y="664.30" width="136.40" height="4.00" fill="#e4e4e4"/>
<line x1="315.40" y1="407.56" x2="449.80" y2="407.56" stroke="#8e8e8e" stroke-width="0.8" stroke-dasharray="0.9,1.5"/>
<line x1="315.40" y1="427.61" x2="449.80" y2="427.61" stroke="#8e8e8e" stroke-width="0.8" stroke-dasharray="0.9,1.5"/>
<line x1="315.40" y1="451.53" x2="449.80" y2="451.53" stroke="#8e8e8e" stroke-width="0.8" stroke-dasharray="0.9,1.5"/>
<line x1="315.40" y1="467.36" x2="449.80" y2="467.36" stroke="#8e8e8e" stroke-width="0.8" stroke-dasharray="0.9,1.5"/>
<line x1="315.40" y1="485.34" x2="449.80" y2="485.34" stroke="#8e8e8e" stroke-width="0.8" stroke-dasharray="0.9,1.5"/>
<line x1="315.40" y1="504.84" x2="449.80" y2="504.84" stroke="#8e8e8e" stroke-width="0.8" stroke-dasharray="0.9,1.5"/>
<line x1="315.40" y1="521.71" x2="449.80" y2="521.71" stroke="#8e8e8e" stroke-width="0.8" stroke-dasharray="0.9,1.5"/>
<line x1="315.40" y1="535.98" x2="449.80" y2="535.98" stroke="#8e8e8e" stroke-width="0.8" stroke-dasharray="0.9,1.5"/>
<line x1="315.40" y1="550.65" x2="449.80" y2="550.65" stroke="#8e8e8e" stroke-width="0.8" stroke-dasharray="0.9,1.5"/>
<line x1="315.40" y1="563.23" x2="449.80" y2="563.23" stroke="#8e8e8e" stroke-width="0.8" stroke-dasharray="0.9,1.5"/>
<line x1="315.40" y1="578.06" x2="449.80" y2="578.06" stroke="#8e8e8e" stroke-width="0.8" stroke-dasharray="0.9,1.5"/>
<line x1="315.40" y1="589.98" x2="449.80" y2="589.98" stroke="#8e8e8e" stroke-width="0.8" stroke-dasharray="0.9,1.5"/>
<line x1="315.40" y1="600.65" x2="449.80" y2="600.65" stroke="#8e8e8e" stroke-width="0.8" stroke-dasharray="0.9,1.5"/>
<line x1="315.40" y1="609.91" x2="449.80" y2="609.91" stroke="#8e8e8e" stroke-width="0.8" stroke-dasharray="0.9,1.5"/>
<line x1="315.40" y1="618.66" x2="449.80" y2="618.66" stroke="#8e8e8e" stroke-width="0.8" stroke-dasharray="0.9,1.5"/>
<line x1="315.40" y1="630.04" x2="449.80" y2="630.04" stroke="#8e8e8e" stroke-width="0.8" stroke-dasharray="0.9,1.5"/>
<line x1="315.40" y1="637.16" x2="449.80" y2="637.16" stroke="#8e8e8e" stroke-width="0.8" stroke-dasharray="0.9,1.5"/>
<line x1="315.40" y1="644.36" x2="449.80" y2="644.36" stroke="#8e8e8e" stroke-width="0.8" stroke-dasharray="0.9,1.5"/>
<line x1="315.40" y1="652.16" x2="449.80" y2="652.16" stroke="#8e8e8e" stroke-width="0.8" stroke-dasharray="0.9,1.5"/>
<line x1="315.40" y1="657.32" x2="449.80" y2="657.32" stroke="#8e8e8e" stroke-width="0.8" stroke-dasharray="0.9,1.5"/>
<line x1="315.40" y1="660.62" x2="449.80" y2="660.62" stroke="#8e8e8e" stroke-width="0.8" stroke-dasharray="0.9,1.5"/>
<line x1="315.40" y1="664.38" x2="449.80" y2="664.38" stroke="#8e8e8e" stroke-width="0.8" stroke-dasharray="0.9,1.5"/>
<rect x="313.90" y="401.55" width="37.80" height="0.90" fill="#8c9fe6"/>
<rect x="313.90" y="402.85" width="8.10" height="0.90" fill="#2f4ad6"/>
<rect x="322.80" y="404.20" width="6.00" height="1.00" fill="#0a18a6"/>
<rect x="328.80" y="404.25" width="13.50" height="0.90" fill="#8c9fe6"/>
<rect x="313.90" y="405.35" width="23.10" height="0.90" fill="#2f4ad6"/>
<rect x="313.90" y="406.70" width="60.70" height="0.80" fill="#2f4ad6"/>
<rect x="359.80" y="406.50" width="4.00" height="1.20" fill="#0a18a6"/>
<rect x="313.90" y="407.80" width="9.60" height="0.80" fill="#8c9fe6"/>
<rect x="313.90" y="411.70" width="49.90" height="1.00" fill="#2f4ad6"/>
<rect x="313.90" y="412.80" width="36.10" height="0.80" fill="#8c9fe6"/>
<rect x="313.90" y="414.75" width="21.00" height="0.90" fill="#8c9fe6"/>
<rect x="313.90" y="435.65" width="14.90" height="0.90" fill="#2f4ad6"/>
<rect x="313.90" y="437.00" width="21.00" height="0.80" fill="#8c9fe6"/>
<rect x="313.90" y="439.70" width="8.90" height="0.80" fill="#8c9fe6"/>
<rect x="323.40" y="440.85" width="16.90" height="1.10" fill="#0a18a6"/>
<rect x="340.30" y="440.95" width="22.80" height="0.90" fill="#8c9fe6"/>
<rect x="313.90" y="441.75" width="9.10" height="0.70" fill="#2f4ad6"/>
<rect x="313.90" y="446.75" width="8.90" height="0.90" fill="#2f4ad6"/>
<rect x="313.90" y="450.85" width="7.50" height="0.90" fill="#2f4ad6"/>
<rect x="313.90" y="469.40" width="20.30" height="1.40" fill="#0a18a6"/>
<rect x="313.90" y="470.95" width="20.30" height="0.70" fill="#8c9fe6"/>
<rect x="313.90" y="475.60" width="11.60" height="0.80" fill="#2f4ad6"/>
<rect x="313.90" y="479.60" width="5.50" height="0.80" fill="#2f4ad6"/>
<rect x="313.90" y="490.80" width="14.30" height="0.80" fill="#2f4ad6"/>
<rect x="313.90" y="502.30" width="11.60" height="0.80" fill="#2f4ad6"/>
<rect x="313.90" y="504.40" width="12.90" height="1.60" fill="#8c9fe6"/>
<rect x="313.90" y="507.75" width="133.60" height="1.30" fill="#2f4ad6"/>
<rect x="336.20" y="507.90" width="18.90" height="1.00" fill="#0a18a6"/>
<rect x="375.30" y="507.90" width="6.70" height="1.00" fill="#0a18a6"/>
<rect x="313.90" y="510.10" width="10.20" height="1.40" fill="#0a18a6"/>
<rect x="313.90" y="513.75" width="6.10" height="0.70" fill="#8c9fe6"/>
<rect x="313.90" y="519.10" width="20.30" height="0.80" fill="#2f4ad6"/>
<rect x="313.90" y="525.75" width="30.40" height="0.90" fill="#0a18a6"/>
<rect x="313.90" y="538.80" width="11.60" height="0.80" fill="#2f4ad6"/>
<rect x="313.90" y="545.45" width="14.90" height="1.10" fill="#0a18a6"/>
<rect x="313.90" y="546.45" width="21.70" height="0.90" fill="#8c9fe6"/>
<rect x="313.90" y="558.10" width="10.20" height="0.80" fill="#2f4ad6"/>
<rect x="313.90" y="561.55" width="21.00" height="0.90" fill="#2f4ad6"/>
<rect x="313.90" y="582.75" width="14.90" height="0.90" fill="#2f4ad6"/>
<rect x="313.90" y="584.80" width="9.50" height="0.80" fill="#2f4ad6"/>
<rect x="313.90" y="589.45" width="35.10" height="0.90" fill="#2f4ad6"/>
<rect x="320.00" y="589.25" width="16.20" height="1.30" fill="#0a18a6"/>
<rect x="313.90" y="589.45" width="6.10" height="0.90" fill="#8c9fe6"/>
<rect x="313.90" y="596.95" width="41.20" height="0.90" fill="#2f4ad6"/>
<rect x="313.90" y="601.40" width="6.10" height="0.80" fill="#8c9fe6"/>
<rect x="332.80" y="603.00" width="40.20" height="1.80" fill="#0a18a6"/>
<rect x="313.90" y="603.40" width="18.90" height="1.00" fill="#2f4ad6"/>
<rect x="313.90" y="604.90" width="65.10" height="1.00" fill="#2f4ad6"/>
<rect x="313.90" y="606.70" width="71.10" height="1.00" fill="#2f4ad6"/>
<rect x="313.90" y="608.80" width="115.80" height="1.00" fill="#2f4ad6"/>
<rect x="313.90" y="612.75" width="30.80" height="0.90" fill="#2f4ad6"/>
<rect x="313.90" y="617.20" width="8.50" height="0.80" fill="#2f4ad6"/>
<rect x="313.90" y="623.65" width="41.20" height="0.90" fill="#8c9fe6"/>
<rect x="323.40" y="623.45" width="14.20" height="1.30" fill="#0a18a6"/>
<rect x="313.90" y="623.60" width="9.50" height="1.00" fill="#2f4ad6"/>
<rect x="313.90" y="625.00" width="21.10" height="0.80" fill="#8c9fe6"/>
<rect x="313.90" y="626.95" width="6.10" height="0.90" fill="#0a18a6"/>
<rect x="313.90" y="629.05" width="16.10" height="0.70" fill="#8c9fe6"/>
<rect x="313.90" y="633.00" width="34.40" height="1.00" fill="#8c9fe6"/>
<rect x="325.50" y="632.85" width="18.10" height="1.30" fill="#0a18a6"/>
<rect x="313.90" y="633.00" width="11.60" height="1.00" fill="#2f4ad6"/>
<rect x="313.90" y="634.20" width="64.10" height="0.80" fill="#8c9fe6"/>
<rect x="313.90" y="636.35" width="8.10" height="0.90" fill="#0a18a6"/>
<rect x="313.90" y="647.45" width="60.70" height="0.90" fill="#8c9fe6"/>
<rect x="336.90" y="647.30" width="19.50" height="1.20" fill="#0a18a6"/>
<rect x="313.90" y="647.15" width="23.00" height="1.50" fill="#8c9fe6"/>
<rect x="313.90" y="650.25" width="23.70" height="1.50" fill="#8c9fe6"/>
<rect x="313.90" y="653.70" width="23.00" height="0.80" fill="#8c9fe6"/>
<rect x="313.90" y="657.35" width="26.10" height="0.70" fill="#8c9fe6"/>
<rect x="313.90" y="658.55" width="43.20" height="0.90" fill="#2f4ad6"/>
<rect x="313.90" y="660.60" width="37.10" height="1.00" fill="#2f4ad6"/>
<rect x="313.90" y="660.50" width="11.60" height="1.20" fill="#0a18a6"/>
<rect x="313.90" y="662.05" width="26.10" height="0.70" fill="#8c9fe6"/>
<rect x="313.90" y="664.00" width="16.90" height="0.80" fill="#2f4ad6"/>
<rect x="313.90" y="665.40" width="16.10" height="0.80" fill="#8c9fe6"/>
<line x1="340.20" y1="396.30" x2="340.20" y2="668.30" stroke="#b8d8a2" stroke-width="0.85"/>
<rect x="313.40" y="396.30" width="136.40" height="272.00" fill="none" stroke="#555" stroke-width="0.9"/>
<rect x="303.30" y="396.30" width="8.30" height="22.52" fill="#fff"/>
<rect x="303.30" y="418.82" width="8.30" height="23.12" fill="#000"/>
<rect x="303.30" y="441.94" width="8.30" height="20.84" fill="#fff"/>
<rect x="303.30" y="462.78" width="8.30" height="17.63" fill="#000"/>
<rect x="303.30" y="480.40" width="8.30" height="18.31" fill="#fff"/>
<rect x="303.30" y="498.71" width="8.30" height="17.03" fill="#000"/>
<rect x="303.30" y="515.74" width="8.30" height="15.72" fill="#fff"/>
<rect x="303.30" y="531.46" width="8.30" height="14.61" fill="#000"/>
<rect x="303.30" y="546.06" width="8.30" height="13.11" fill="#fff"/>
<rect x="303.30" y="559.17" width="8.30" height="13.52" fill="#000"/>
<rect x="303.30" y="572.69" width="8.30" height="13.41" fill="#fff"/>
<rect x="303.30" y="586.10" width="8.30" height="14.36" fill="#000"/>
<rect x="303.30" y="600.46" width="8.30" height="9.28" fill="#fff"/>
<rect x="303.30" y="609.74" width="8.30" height="8.76" fill="#000"/>
<rect x="303.30" y="618.50" width="8.30" height="8.27" fill="#fff"/>
<rect x="303.30" y="626.77" width="8.30" height="8.00" fill="#000"/>
<rect x="303.30" y="634.76" width="8.30" height="8.00" fill="#fff"/>
<rect x="303.30" y="642.76" width="8.30" height="7.26" fill="#000"/>
<rect x="303.30" y="650.02" width="8.30" height="4.76" fill="#fff"/>
<rect x="303.30" y="654.78" width="8.30" height="5.77" fill="#000"/>
<rect x="303.30" y="660.55" width="8.30" height="3.75" fill="#fff"/>
<rect x="303.30" y="664.30" width="8.30" height="4.00" fill="#000"/>
<rect x="303.30" y="396.30" width="8.30" height="272.00" fill="none" stroke="#222" stroke-width="0.7"/>
<text x="281.60" y="409.86" font-size="5.3" text-anchor="end" fill="#111" stroke="#111" stroke-width="0.15">1</text>
<text x="295.30" y="432.68" font-size="5.3" text-anchor="end" fill="#111" stroke="#111" stroke-width="0.15">2</text>
<text x="281.60" y="454.66" font-size="5.3" text-anchor="end" fill="#111" stroke="#111" stroke-width="0.15">3</text>
<text x="295.30" y="473.89" font-size="5.3" text-anchor="end" fill="#111" stroke="#111" stroke-width="0.15">4</text>
<text x="281.60" y="491.86" font-size="5.3" text-anchor="end" fill="#111" stroke="#111" stroke-width="0.15">5</text>
<text x="295.30" y="509.52" font-size="5.3" text-anchor="end" fill="#111" stroke="#111" stroke-width="0.15">6</text>
<text x="281.60" y="525.90" font-size="5.3" text-anchor="end" fill="#111" stroke="#111" stroke-width="0.15">7</text>
<text x="295.30" y="541.06" font-size="5.3" text-anchor="end" fill="#111" stroke="#111" stroke-width="0.15">8</text>
<text x="281.60" y="554.92" font-size="5.3" text-anchor="end" fill="#111" stroke="#111" stroke-width="0.15">9</text>
<text x="295.30" y="568.23" font-size="5.3" text-anchor="end" fill="#111" stroke="#111" stroke-width="0.15">10</text>
<text x="281.60" y="581.70" font-size="5.3" text-anchor="end" fill="#111" stroke="#111" stroke-width="0.15">11</text>
<text x="295.30" y="595.58" font-size="5.3" text-anchor="end" fill="#111" stroke="#111" stroke-width="0.15">12</text>
<text x="281.60" y="607.40" font-size="5.3" text-anchor="end" fill="#111" stroke="#111" stroke-width="0.15">13</text>
<text x="295.30" y="616.42" font-size="5.3" text-anchor="end" fill="#111" stroke="#111" stroke-width="0.15">14</text>
<text x="281.60" y="624.93" font-size="5.3" text-anchor="end" fill="#111" stroke="#111" stroke-width="0.15">15</text>
<text x="295.30" y="633.06" font-size="5.3" text-anchor="end" fill="#111" stroke="#111" stroke-width="0.15">16</text>
<text x="281.60" y="641.06" font-size="5.3" text-anchor="end" fill="#111" stroke="#111" stroke-width="0.15">17</text>
<text x="295.30" y="648.69" font-size="5.3" text-anchor="end" fill="#111" stroke="#111" stroke-width="0.15">18</text>
<text x="281.60" y="654.70" font-size="5.3" text-anchor="end" fill="#111" stroke="#111" stroke-width="0.15">19</text>
<text x="295.30" y="659.96" font-size="5.3" text-anchor="end" fill="#111" stroke="#111" stroke-width="0.15">20</text>
<text x="281.60" y="664.72" font-size="5.3" text-anchor="end" fill="#111" stroke="#111" stroke-width="0.15">21</text>
<text x="295.30" y="668.60" font-size="5.3" text-anchor="end" fill="#111" stroke="#111" stroke-width="0.15">22</text>
<text x="341.70" y="394.00" font-size="5.3" text-anchor="middle" fill="#111" stroke="#111" stroke-width="0.1">0.039</text>
<line x1="341.70" y1="396.30" x2="341.70" y2="395.10" stroke="#555" stroke-width="0.6"/>
<text x="394.00" y="394.00" font-size="5.3" text-anchor="middle" fill="#111" stroke="#111" stroke-width="0.1">0.1</text>
<line x1="394.00" y1="396.30" x2="394.00" y2="395.10" stroke="#555" stroke-width="0.6"/>
<text x="341.00" y="675.00" font-size="5.8" text-anchor="middle" fill="#111" stroke="#111" stroke-width="0.1">0.25</text>
<text x="376.90" y="675.00" font-size="5.5" text-anchor="middle" fill="#111" stroke="#111" stroke-width="0.1">10<tspan font-size="4.0" dx="0.7" dy="-2.4">-2</tspan></text>
<text x="405.00" y="675.00" font-size="5.5" text-anchor="middle" fill="#111" stroke="#111" stroke-width="0.1">10<tspan font-size="4.0" dx="0.7" dy="-2.4">-4</tspan></text>
<text x="424.40" y="675.00" font-size="5.5" text-anchor="middle" fill="#111" stroke="#111" stroke-width="0.1">10<tspan font-size="4.0" dx="0.7" dy="-2.4">-6</tspan></text>
<text x="450.60" y="675.00" font-size="5.5" text-anchor="middle" fill="#111" stroke="#111" stroke-width="0.1">10<tspan font-size="4.0" dx="0.7" dy="-2.4">-10</tspan></text>
<polyline points="449.80,401.00 455.00,401.00 466.00,396.20" fill="none" stroke="#333" stroke-width="0.6"/>
<text x="466.80" y="397.90" font-size="5.1" fill="#111" stroke="#111" stroke-width="0.1">1p31.3</text>
<polyline points="449.80,406.80 455.00,406.80 466.00,408.30" fill="none" stroke="#333" stroke-width="0.6"/>
<text x="466.80" y="410.00" font-size="5.1" fill="#111" stroke="#111" stroke-width="0.1">1p13.2</text>
<polyline points="449.80,412.70 455.00,412.70 466.00,421.00" fill="none" stroke="#333" stroke-width="0.6"/>
<text x="466.80" y="422.70" font-size="5.1" fill="#111" stroke="#111" stroke-width="0.1">1q32.1</text>
<polyline points="449.80,441.80 466.30,442.00" fill="none" stroke="#333" stroke-width="0.6"/>
<text x="466.80" y="443.70" font-size="5.1" fill="#111" stroke="#111" stroke-width="0.1">2q37.3</text>
<polyline points="449.80,509.20 455.00,509.20 466.00,482.30" fill="none" stroke="#333" stroke-width="0.6"/>
<text x="466.80" y="484.00" font-size="5.1" fill="#111" stroke="#111" stroke-width="0.1">6q21</text>
<polyline points="449.80,526.50 455.00,526.50 466.00,494.80" fill="none" stroke="#333" stroke-width="0.6"/>
<text x="466.80" y="496.50" font-size="5.1" fill="#111" stroke="#111" stroke-width="0.1">7q31.1</text>
<polyline points="449.80,590.40 455.00,590.40 466.00,507.30" fill="none" stroke="#333" stroke-width="0.6"/>
<text x="466.80" y="509.00" font-size="5.1" fill="#111" stroke="#111" stroke-width="0.1">12q12</text>
<polyline points="449.80,597.70 455.00,597.70 466.00,519.70" fill="none" stroke="#333" stroke-width="0.6"/>
<text x="466.80" y="521.40" font-size="5.1" fill="#111" stroke="#111" stroke-width="0.1">12q24.31</text>
<polyline points="449.80,604.20 455.00,604.20 466.00,532.00" fill="none" stroke="#333" stroke-width="0.6"/>
<text x="466.80" y="533.70" font-size="5.1" fill="#111" stroke="#111" stroke-width="0.1">13q21.2</text>
<polyline points="449.80,605.60 455.00,605.60 466.00,544.20" fill="none" stroke="#333" stroke-width="0.6"/>
<text x="466.80" y="545.90" font-size="5.1" fill="#111" stroke="#111" stroke-width="0.1">13q21.31</text>
<polyline points="449.80,607.00 455.00,607.00 466.00,556.60" fill="none" stroke="#333" stroke-width="0.6"/>
<text x="466.80" y="558.30" font-size="5.1" fill="#111" stroke="#111" stroke-width="0.1">13q31.1</text>
<polyline points="449.80,608.60 455.00,608.60 466.00,568.80" fill="none" stroke="#333" stroke-width="0.6"/>
<text x="466.80" y="570.50" font-size="5.1" fill="#111" stroke="#111" stroke-width="0.1">13q32.3</text>
<polyline points="449.80,610.50 455.00,610.50 466.00,581.50" fill="none" stroke="#333" stroke-width="0.6"/>
<text x="466.80" y="583.20" font-size="5.1" fill="#111" stroke="#111" stroke-width="0.1">14q11.2</text>
<polyline points="449.80,613.20 455.00,613.20 466.00,593.80" fill="none" stroke="#333" stroke-width="0.6"/>
<text x="466.80" y="595.50" font-size="5.1" fill="#111" stroke="#111" stroke-width="0.1">14q23.1</text>
<polyline points="449.80,624.30 455.00,624.30 466.00,606.50" fill="none" stroke="#333" stroke-width="0.6"/>
<text x="466.80" y="608.20" font-size="5.1" fill="#111" stroke="#111" stroke-width="0.1">15q26.1</text>
<polyline points="449.80,633.40 455.00,633.40 466.00,619.00" fill="none" stroke="#333" stroke-width="0.6"/>
<text x="466.80" y="620.70" font-size="5.1" fill="#111" stroke="#111" stroke-width="0.1">16q23.2</text>
<polyline points="449.80,634.40 455.00,634.40 466.00,631.60" fill="none" stroke="#333" stroke-width="0.6"/>
<text x="466.80" y="633.30" font-size="5.1" fill="#111" stroke="#111" stroke-width="0.1">17p13.1</text>
<polyline points="449.80,648.00 455.00,648.00 466.00,643.90" fill="none" stroke="#333" stroke-width="0.6"/>
<text x="466.80" y="645.60" font-size="5.1" fill="#111" stroke="#111" stroke-width="0.1">18q22.1</text>
<polyline points="449.80,659.00 455.00,659.00 466.00,656.50" fill="none" stroke="#333" stroke-width="0.6"/>
<text x="466.80" y="658.20" font-size="5.1" fill="#111" stroke="#111" stroke-width="0.1">20q13.13</text>
<polyline points="449.80,662.40 455.00,662.40 466.00,668.00" fill="none" stroke="#333" stroke-width="0.6"/>
<text x="466.80" y="669.70" font-size="5.1" fill="#111" stroke="#111" stroke-width="0.1">21q21.1</text>
<rect x="73.80" y="745.66" width="139.00" height="22.13" fill="#e4e4e4"/>
<rect x="73.80" y="787.74" width="139.00" height="16.87" fill="#e4e4e4"/>
<rect x="73.80" y="822.14" width="139.00" height="16.30" fill="#e4e4e4"/>
<rect x="73.80" y="853.49" width="139.00" height="13.98" fill="#e4e4e4"/>
<rect x="73.80" y="880.03" width="139.00" height="12.94" fill="#e4e4e4"/>
<rect x="73.80" y="905.81" width="139.00" height="13.75" fill="#e4e4e4"/>
<rect x="73.80" y="928.44" width="139.00" height="8.38" fill="#e4e4e4"/>
<rect x="73.80" y="944.74" width="139.00" height="7.66" fill="#e4e4e4"/>
<rect x="73.80" y="960.05" width="139.00" height="6.95" fill="#e4e4e4"/>
<rect x="73.80" y="972.26" width="139.00" height="6.51" fill="#e4e4e4"/>
<rect x="73.80" y="981.51" width="139.00" height="2.99" fill="#e4e4e4"/>
<line x1="75.80" y1="734.88" x2="212.80" y2="734.88" stroke="#8e8e8e" stroke-width="0.8" stroke-dasharray="0.9,1.5"/>
<line x1="75.80" y1="754.07" x2="212.80" y2="754.07" stroke="#8e8e8e" stroke-width="0.8" stroke-dasharray="0.9,1.5"/>
<line x1="75.80" y1="776.97" x2="212.80" y2="776.97" stroke="#8e8e8e" stroke-width="0.8" stroke-dasharray="0.9,1.5"/>
<line x1="75.80" y1="792.13" x2="212.80" y2="792.13" stroke="#8e8e8e" stroke-width="0.8" stroke-dasharray="0.9,1.5"/>
<line x1="75.80" y1="809.35" x2="212.80" y2="809.35" stroke="#8e8e8e" stroke-width="0.8" stroke-dasharray="0.9,1.5"/>
<line x1="75.80" y1="828.01" x2="212.80" y2="828.01" stroke="#8e8e8e" stroke-width="0.8" stroke-dasharray="0.9,1.5"/>
<line x1="75.80" y1="844.16" x2="212.80" y2="844.16" stroke="#8e8e8e" stroke-width="0.8" stroke-dasharray="0.9,1.5"/>
<line x1="75.80" y1="857.83" x2="212.80" y2="857.83" stroke="#8e8e8e" stroke-width="0.8" stroke-dasharray="0.9,1.5"/>
<line x1="75.80" y1="871.87" x2="212.80" y2="871.87" stroke="#8e8e8e" stroke-width="0.8" stroke-dasharray="0.9,1.5"/>
<line x1="75.80" y1="883.91" x2="212.80" y2="883.91" stroke="#8e8e8e" stroke-width="0.8" stroke-dasharray="0.9,1.5"/>
<line x1="75.80" y1="898.10" x2="212.80" y2="898.10" stroke="#8e8e8e" stroke-width="0.8" stroke-dasharray="0.9,1.5"/>
<line x1="75.80" y1="909.52" x2="212.80" y2="909.52" stroke="#8e8e8e" stroke-width="0.8" stroke-dasharray="0.9,1.5"/>
<line x1="75.80" y1="919.73" x2="212.80" y2="919.73" stroke="#8e8e8e" stroke-width="0.8" stroke-dasharray="0.9,1.5"/>
<line x1="75.80" y1="928.60" x2="212.80" y2="928.60" stroke="#8e8e8e" stroke-width="0.8" stroke-dasharray="0.9,1.5"/>
<line x1="75.80" y1="936.98" x2="212.80" y2="936.98" stroke="#8e8e8e" stroke-width="0.8" stroke-dasharray="0.9,1.5"/>
<line x1="75.80" y1="947.88" x2="212.80" y2="947.88" stroke="#8e8e8e" stroke-width="0.8" stroke-dasharray="0.9,1.5"/>
<line x1="75.80" y1="954.69" x2="212.80" y2="954.69" stroke="#8e8e8e" stroke-width="0.8" stroke-dasharray="0.9,1.5"/>
<line x1="75.80" y1="961.58" x2="212.80" y2="961.58" stroke="#8e8e8e" stroke-width="0.8" stroke-dasharray="0.9,1.5"/>
<line x1="75.80" y1="969.37" x2="212.80" y2="969.37" stroke="#8e8e8e" stroke-width="0.8" stroke-dasharray="0.9,1.5"/>
<line x1="75.80" y1="975.13" x2="212.80" y2="975.13" stroke="#8e8e8e" stroke-width="0.8" stroke-dasharray="0.9,1.5"/>
<line x1="75.80" y1="978.83" x2="212.80" y2="978.83" stroke="#8e8e8e" stroke-width="0.8" stroke-dasharray="0.9,1.5"/>
<line x1="75.80" y1="981.57" x2="212.80" y2="981.57" stroke="#8e8e8e" stroke-width="0.8" stroke-dasharray="0.9,1.5"/>
<rect x="74.30" y="723.85" width="16.20" height="1.50" fill="#c02210"/>
<rect x="90.50" y="724.00" width="4.50" height="1.20" fill="#ee9480"/>
<rect x="74.30" y="737.20" width="33.50" height="0.80" fill="#dc4e36"/>
<rect x="100.30" y="738.70" width="7.50" height="1.80" fill="#f4b4a4"/>
<rect x="100.30" y="739.80" width="21.30" height="0.80" fill="#c02210"/>
<rect x="100.00" y="740.10" width="0.80" height="5.40" fill="#dc4e36"/>
<rect x="74.30" y="744.70" width="26.00" height="0.80" fill="#c02210"/>
<rect x="74.30" y="768.30" width="51.30" height="0.80" fill="#dc4e36"/>
<rect x="100.30" y="769.30" width="7.50" height="1.20" fill="#f4b4a4"/>
<rect x="100.00" y="768.65" width="0.80" height="3.50" fill="#dc4e36"/>
<rect x="74.30" y="771.80" width="26.00" height="0.80" fill="#dc4e36"/>
<rect x="74.30" y="773.45" width="32.90" height="0.90" fill="#ee9480"/>
<rect x="74.30" y="776.35" width="33.50" height="0.70" fill="#ee9480"/>
<rect x="74.30" y="782.65" width="33.50" height="0.90" fill="#dc4e36"/>
<rect x="74.30" y="793.00" width="33.50" height="1.00" fill="#ee9480"/>
<rect x="74.30" y="801.95" width="32.30" height="1.50" fill="#e6705a"/>
<rect x="74.30" y="808.55" width="28.30" height="0.90" fill="#dc4e36"/>
<rect x="74.30" y="818.65" width="33.50" height="0.70" fill="#dc4e36"/>
<rect x="74.30" y="819.40" width="33.50" height="4.00" fill="#f4b4a4"/>
<rect x="74.30" y="823.35" width="33.50" height="0.70" fill="#dc4e36"/>
<rect x="74.30" y="824.60" width="33.50" height="0.80" fill="#dc4e36"/>
<rect x="74.30" y="826.90" width="33.50" height="0.60" fill="#c02210"/>
<rect x="74.30" y="828.75" width="33.50" height="2.30" fill="#ee9480"/>
<rect x="74.30" y="831.00" width="33.50" height="0.60" fill="#dc4e36"/>
<rect x="90.50" y="832.60" width="17.30" height="0.80" fill="#c02210"/>
<rect x="74.30" y="832.80" width="16.20" height="0.80" fill="#ee9480"/>
<rect x="74.30" y="835.20" width="33.50" height="2.80" fill="#ee9480"/>
<rect x="99.70" y="837.10" width="8.10" height="1.00" fill="#c02210"/>
<rect x="74.30" y="838.00" width="33.50" height="0.60" fill="#dc4e36"/>
<rect x="74.30" y="856.40" width="28.80" height="2.20" fill="#ee9480"/>
<rect x="74.30" y="857.95" width="28.80" height="0.50" fill="#c02210"/>
<rect x="74.30" y="864.05" width="33.50" height="0.70" fill="#dc4e36"/>
<rect x="74.30" y="864.60" width="33.50" height="2.40" fill="#e6705a"/>
<rect x="89.30" y="865.75" width="18.50" height="0.90" fill="#c02210"/>
<rect x="74.30" y="867.15" width="33.50" height="0.70" fill="#dc4e36"/>
<rect x="74.30" y="871.50" width="26.00" height="1.40" fill="#dc4e36"/>
<rect x="74.30" y="874.40" width="33.50" height="0.80" fill="#dc4e36"/>
<rect x="74.30" y="876.10" width="33.50" height="0.80" fill="#dc4e36"/>
<rect x="74.30" y="880.20" width="33.50" height="0.80" fill="#dc4e36"/>
<rect x="74.30" y="888.55" width="28.80" height="0.90" fill="#ee9480"/>
<rect x="74.30" y="895.10" width="33.50" height="1.00" fill="#c02210"/>
<rect x="107.80" y="895.90" width="65.50" height="0.80" fill="#ee9480"/>
<rect x="74.30" y="901.90" width="32.30" height="2.20" fill="#e6705a"/>
<rect x="74.30" y="909.05" width="33.50" height="0.70" fill="#ee9480"/>
<rect x="74.30" y="912.05" width="16.20" height="0.90" fill="#ee9480"/>
<rect x="74.30" y="917.05" width="28.80" height="0.90" fill="#ee9480"/>
<rect x="74.30" y="919.80" width="33.50" height="1.60" fill="#ee9480"/>
<rect x="74.30" y="923.20" width="32.90" height="2.40" fill="#c02210"/>
<rect x="74.30" y="925.45" width="99.00" height="0.90" fill="#dc4e36"/>
<rect x="74.30" y="932.05" width="28.80" height="0.90" fill="#ee9480"/>
<rect x="74.30" y="955.10" width="31.10" height="0.80" fill="#dc4e36"/>
<rect x="74.30" y="966.10" width="16.70" height="0.80" fill="#dc4e36"/>
<rect x="74.30" y="968.60" width="32.30" height="2.00" fill="#ee9480"/>
<rect x="74.30" y="970.70" width="32.30" height="0.80" fill="#c02210"/>
<rect x="74.30" y="972.90" width="33.50" height="2.80" fill="#f4b4a4"/>
<rect x="74.30" y="973.95" width="99.00" height="0.90" fill="#dc4e36"/>
<rect x="89.90" y="976.80" width="17.90" height="1.20" fill="#c02210"/>
<rect x="74.30" y="976.80" width="15.60" height="1.20" fill="#ee9480"/>
<rect x="74.30" y="983.10" width="26.50" height="1.00" fill="#dc4e36"/>
<line x1="168.40" y1="724.10" x2="168.40" y2="984.50" stroke="#b8d8a2" stroke-width="0.85"/>
<rect x="73.80" y="724.10" width="139.00" height="260.40" fill="none" stroke="#555" stroke-width="0.9"/>
<rect x="63.40" y="724.10" width="8.60" height="21.56" fill="#fff"/>
<rect x="63.40" y="745.66" width="8.60" height="22.13" fill="#000"/>
<rect x="63.40" y="767.80" width="8.60" height="19.95" fill="#fff"/>
<rect x="63.40" y="787.74" width="8.60" height="16.87" fill="#000"/>
<rect x="63.40" y="804.62" width="8.60" height="17.52" fill="#fff"/>
<rect x="63.40" y="822.14" width="8.60" height="16.30" fill="#000"/>
<rect x="63.40" y="838.44" width="8.60" height="15.05" fill="#fff"/>
<rect x="63.40" y="853.49" width="8.60" height="13.98" fill="#000"/>
<rect x="63.40" y="867.48" width="8.60" height="12.55" fill="#fff"/>
<rect x="63.40" y="880.03" width="8.60" height="12.94" fill="#000"/>
<rect x="63.40" y="892.97" width="8.60" height="12.84" fill="#fff"/>
<rect x="63.40" y="905.81" width="8.60" height="13.75" fill="#000"/>
<rect x="63.40" y="919.56" width="8.60" height="8.88" fill="#fff"/>
<rect x="63.40" y="928.44" width="8.60" height="8.38" fill="#000"/>
<rect x="63.40" y="936.82" width="8.60" height="7.92" fill="#fff"/>
<rect x="63.40" y="944.74" width="8.60" height="7.66" fill="#000"/>
<rect x="63.40" y="952.39" width="8.60" height="7.66" fill="#fff"/>
<rect x="63.40" y="960.05" width="8.60" height="6.95" fill="#000"/>
<rect x="63.40" y="967.00" width="8.60" height="5.26" fill="#fff"/>
<rect x="63.40" y="972.26" width="8.60" height="6.51" fill="#000"/>
<rect x="63.40" y="978.77" width="8.60" height="2.73" fill="#fff"/>
<rect x="63.40" y="981.51" width="8.60" height="2.99" fill="#000"/>
<rect x="63.40" y="724.10" width="8.60" height="260.40" fill="none" stroke="#222" stroke-width="0.7"/>
<text x="42.20" y="737.48" font-size="5.3" text-anchor="end" fill="#111" stroke="#111" stroke-width="0.15">1</text>
<text x="56.20" y="759.33" font-size="5.3" text-anchor="end" fill="#111" stroke="#111" stroke-width="0.15">2</text>
<text x="42.20" y="780.37" font-size="5.3" text-anchor="end" fill="#111" stroke="#111" stroke-width="0.15">3</text>
<text x="56.20" y="798.78" font-size="5.3" text-anchor="end" fill="#111" stroke="#111" stroke-width="0.15">4</text>
<text x="42.20" y="815.98" font-size="5.3" text-anchor="end" fill="#111" stroke="#111" stroke-width="0.15">5</text>
<text x="56.20" y="832.89" font-size="5.3" text-anchor="end" fill="#111" stroke="#111" stroke-width="0.15">6</text>
<text x="42.20" y="848.57" font-size="5.3" text-anchor="end" fill="#111" stroke="#111" stroke-width="0.15">7</text>
<text x="56.20" y="863.08" font-size="5.3" text-anchor="end" fill="#111" stroke="#111" stroke-width="0.15">8</text>
<text x="42.20" y="876.35" font-size="5.3" text-anchor="end" fill="#111" stroke="#111" stroke-width="0.15">9</text>
<text x="56.20" y="889.10" font-size="5.3" text-anchor="end" fill="#111" stroke="#111" stroke-width="0.15">10</text>
<text x="42.20" y="901.99" font-size="5.3" text-anchor="end" fill="#111" stroke="#111" stroke-width="0.15">11</text>
<text x="56.20" y="915.28" font-size="5.3" text-anchor="end" fill="#111" stroke="#111" stroke-width="0.15">12</text>
<text x="42.20" y="926.60" font-size="5.3" text-anchor="end" fill="#111" stroke="#111" stroke-width="0.15">13</text>
<text x="56.20" y="935.23" font-size="5.3" text-anchor="end" fill="#111" stroke="#111" stroke-width="0.15">14</text>
<text x="42.20" y="943.38" font-size="5.3" text-anchor="end" fill="#111" stroke="#111" stroke-width="0.15">15</text>
<text x="56.20" y="951.16" font-size="5.3" text-anchor="end" fill="#111" stroke="#111" stroke-width="0.15">16</text>
<text x="42.20" y="958.82" font-size="5.3" text-anchor="end" fill="#111" stroke="#111" stroke-width="0.15">17</text>
<text x="56.20" y="966.12" font-size="5.3" text-anchor="end" fill="#111" stroke="#111" stroke-width="0.15">18</text>
<text x="42.20" y="972.23" font-size="5.3" text-anchor="end" fill="#111" stroke="#111" stroke-width="0.15">19</text>
<text x="56.20" y="978.12" font-size="5.3" text-anchor="end" fill="#111" stroke="#111" stroke-width="0.15">20</text>
<text x="42.20" y="982.74" font-size="5.3" text-anchor="end" fill="#111" stroke="#111" stroke-width="0.15">21</text>
<text x="56.20" y="985.60" font-size="5.3" text-anchor="end" fill="#111" stroke="#111" stroke-width="0.15">22</text>
<text x="107.30" y="721.60" font-size="5.3" text-anchor="middle" fill="#111" stroke="#111" stroke-width="0.1">0.1</text>
<line x1="107.30" y1="724.10" x2="107.30" y2="722.90" stroke="#555" stroke-width="0.6"/>
<text x="172.30" y="721.60" font-size="5.3" text-anchor="middle" fill="#111" stroke="#111" stroke-width="0.1">0.25</text>
<line x1="172.30" y1="724.10" x2="172.30" y2="722.90" stroke="#555" stroke-width="0.6"/>
<text x="173.30" y="721.60" font-size="5.3" text-anchor="middle" fill="#111" stroke="#111" stroke-width="0.1">0.27</text>
<line x1="173.30" y1="724.10" x2="173.30" y2="722.90" stroke="#555" stroke-width="0.6"/>
<text x="168.00" y="991.50" font-size="5.8" text-anchor="middle" fill="#111" stroke="#111" stroke-width="0.1">0.25</text>
<text x="213.50" y="991.50" font-size="5.5" text-anchor="middle" fill="#111" stroke="#111" stroke-width="0.1">10<tspan font-size="4.0" dx="0.7" dy="-2.4">-1</tspan></text>
<polyline points="212.80,896.60 228.80,896.60" fill="none" stroke="#333" stroke-width="0.6"/>
<text x="229.30" y="898.30" font-size="5.1" fill="#111" stroke="#111" stroke-width="0.1">11p13</text>
<polyline points="212.80,926.20 228.80,926.20" fill="none" stroke="#333" stroke-width="0.6"/>
<text x="229.30" y="927.90" font-size="5.1" fill="#111" stroke="#111" stroke-width="0.1">13q31.3</text>
<polyline points="212.80,974.90 228.80,974.90" fill="none" stroke="#333" stroke-width="0.6"/>
<text x="229.30" y="976.60" font-size="5.1" fill="#111" stroke="#111" stroke-width="0.1">20q11.22</text>
<rect x="320.30" y="743.89" width="132.30" height="22.07" fill="#e4e4e4"/>
<rect x="320.30" y="785.85" width="132.30" height="16.82" fill="#e4e4e4"/>
<rect x="320.30" y="820.14" width="132.30" height="16.25" fill="#e4e4e4"/>
<rect x="320.30" y="851.40" width="132.30" height="13.94" fill="#e4e4e4"/>
<rect x="320.30" y="877.85" width="132.30" height="12.90" fill="#e4e4e4"/>
<rect x="320.30" y="903.55" width="132.30" height="13.71" fill="#e4e4e4"/>
<rect x="320.30" y="926.11" width="132.30" height="8.36" fill="#e4e4e4"/>
<rect x="320.30" y="942.36" width="132.30" height="7.63" fill="#e4e4e4"/>
<rect x="320.30" y="957.62" width="132.30" height="6.93" fill="#e4e4e4"/>
<rect x="320.30" y="969.80" width="132.30" height="6.49" fill="#e4e4e4"/>
<rect x="320.30" y="979.01" width="132.30" height="2.99" fill="#e4e4e4"/>
<line x1="322.30" y1="733.15" x2="452.60" y2="733.15" stroke="#8e8e8e" stroke-width="0.8" stroke-dasharray="0.9,1.5"/>
<line x1="322.30" y1="752.28" x2="452.60" y2="752.28" stroke="#8e8e8e" stroke-width="0.8" stroke-dasharray="0.9,1.5"/>
<line x1="322.30" y1="775.11" x2="452.60" y2="775.11" stroke="#8e8e8e" stroke-width="0.8" stroke-dasharray="0.9,1.5"/>
<line x1="322.30" y1="790.22" x2="452.60" y2="790.22" stroke="#8e8e8e" stroke-width="0.8" stroke-dasharray="0.9,1.5"/>
<line x1="322.30" y1="807.39" x2="452.60" y2="807.39" stroke="#8e8e8e" stroke-width="0.8" stroke-dasharray="0.9,1.5"/>
<line x1="322.30" y1="825.99" x2="452.60" y2="825.99" stroke="#8e8e8e" stroke-width="0.8" stroke-dasharray="0.9,1.5"/>
<line x1="322.30" y1="842.09" x2="452.60" y2="842.09" stroke="#8e8e8e" stroke-width="0.8" stroke-dasharray="0.9,1.5"/>
<line x1="322.30" y1="855.72" x2="452.60" y2="855.72" stroke="#8e8e8e" stroke-width="0.8" stroke-dasharray="0.9,1.5"/>
<line x1="322.30" y1="869.72" x2="452.60" y2="869.72" stroke="#8e8e8e" stroke-width="0.8" stroke-dasharray="0.9,1.5"/>
<line x1="322.30" y1="881.72" x2="452.60" y2="881.72" stroke="#8e8e8e" stroke-width="0.8" stroke-dasharray="0.9,1.5"/>
<line x1="322.30" y1="895.87" x2="452.60" y2="895.87" stroke="#8e8e8e" stroke-width="0.8" stroke-dasharray="0.9,1.5"/>
<line x1="322.30" y1="907.25" x2="452.60" y2="907.25" stroke="#8e8e8e" stroke-width="0.8" stroke-dasharray="0.9,1.5"/>
<line x1="322.30" y1="917.43" x2="452.60" y2="917.43" stroke="#8e8e8e" stroke-width="0.8" stroke-dasharray="0.9,1.5"/>
<line x1="322.30" y1="926.28" x2="452.60" y2="926.28" stroke="#8e8e8e" stroke-width="0.8" stroke-dasharray="0.9,1.5"/>
<line x1="322.30" y1="934.63" x2="452.60" y2="934.63" stroke="#8e8e8e" stroke-width="0.8" stroke-dasharray="0.9,1.5"/>
<line x1="322.30" y1="945.49" x2="452.60" y2="945.49" stroke="#8e8e8e" stroke-width="0.8" stroke-dasharray="0.9,1.5"/>
<line x1="322.30" y1="952.28" x2="452.60" y2="952.28" stroke="#8e8e8e" stroke-width="0.8" stroke-dasharray="0.9,1.5"/>
<line x1="322.30" y1="959.15" x2="452.60" y2="959.15" stroke="#8e8e8e" stroke-width="0.8" stroke-dasharray="0.9,1.5"/>
<line x1="322.30" y1="966.91" x2="452.60" y2="966.91" stroke="#8e8e8e" stroke-width="0.8" stroke-dasharray="0.9,1.5"/>
<line x1="322.30" y1="972.65" x2="452.60" y2="972.65" stroke="#8e8e8e" stroke-width="0.8" stroke-dasharray="0.9,1.5"/>
<line x1="322.30" y1="976.34" x2="452.60" y2="976.34" stroke="#8e8e8e" stroke-width="0.8" stroke-dasharray="0.9,1.5"/>
<line x1="322.30" y1="979.07" x2="452.60" y2="979.07" stroke="#8e8e8e" stroke-width="0.8" stroke-dasharray="0.9,1.5"/>
<rect x="320.80" y="728.50" width="8.70" height="0.80" fill="#8c9fe6"/>
<rect x="329.50" y="728.50" width="1.50" height="1.00" fill="#0a18a6"/>
<rect x="330.30" y="730.10" width="10.70" height="0.80" fill="#2f4ad6"/>
<rect x="320.80" y="731.10" width="31.80" height="0.80" fill="#8c9fe6"/>
<rect x="320.80" y="732.10" width="71.00" height="1.00" fill="#2f4ad6"/>
<rect x="352.60" y="731.90" width="4.60" height="1.40" fill="#0a18a6"/>
<rect x="378.80" y="731.90" width="4.60" height="1.40" fill="#0a18a6"/>
<rect x="320.80" y="733.60" width="9.50" height="0.80" fill="#8c9fe6"/>
<rect x="320.80" y="737.65" width="27.20" height="1.10" fill="#0a18a6"/>
<rect x="320.80" y="763.90" width="4.90" height="0.80" fill="#8c9fe6"/>
<rect x="320.80" y="765.10" width="15.70" height="0.80" fill="#2f4ad6"/>
<rect x="333.40" y="765.95" width="15.40" height="1.10" fill="#0a18a6"/>
<rect x="320.80" y="766.00" width="12.60" height="1.00" fill="#8c9fe6"/>
<rect x="320.80" y="770.80" width="11.80" height="0.80" fill="#2f4ad6"/>
<rect x="320.80" y="791.60" width="9.20" height="1.00" fill="#0a18a6"/>
<rect x="320.80" y="793.00" width="29.00" height="1.00" fill="#2f4ad6"/>
<rect x="320.80" y="823.25" width="13.90" height="0.90" fill="#8c9fe6"/>
<rect x="320.80" y="828.30" width="75.40" height="2.40" fill="#8c9fe6"/>
<rect x="320.80" y="829.75" width="125.20" height="1.10" fill="#2f4ad6"/>
<rect x="369.50" y="829.60" width="2.00" height="1.40" fill="#0a18a6"/>
<rect x="393.50" y="829.50" width="2.50" height="1.60" fill="#0a18a6"/>
<rect x="320.80" y="832.05" width="10.70" height="1.10" fill="#2f4ad6"/>
<rect x="320.80" y="858.05" width="13.50" height="0.90" fill="#2f4ad6"/>
<rect x="320.80" y="900.60" width="17.40" height="1.00" fill="#0a18a6"/>
<rect x="320.80" y="903.65" width="10.50" height="0.90" fill="#2f4ad6"/>
<rect x="320.80" y="905.80" width="19.20" height="0.80" fill="#2f4ad6"/>
<rect x="320.80" y="908.10" width="28.40" height="1.00" fill="#0a18a6"/>
<rect x="320.80" y="914.45" width="53.70" height="0.90" fill="#2f4ad6"/>
<rect x="320.80" y="918.05" width="9.00" height="0.90" fill="#8c9fe6"/>
<rect x="320.80" y="920.30" width="74.60" height="1.20" fill="#8c9fe6"/>
<rect x="347.70" y="920.50" width="41.70" height="2.20" fill="#0a18a6"/>
<rect x="320.80" y="920.60" width="26.90" height="2.00" fill="#2f4ad6"/>
<rect x="320.80" y="923.30" width="67.20" height="1.00" fill="#0a18a6"/>
<rect x="320.80" y="924.85" width="102.90" height="0.90" fill="#2f4ad6"/>
<rect x="320.80" y="929.40" width="4.50" height="0.80" fill="#2f4ad6"/>
<rect x="320.80" y="943.50" width="22.60" height="3.00" fill="#8c9fe6"/>
<rect x="320.80" y="948.55" width="18.70" height="1.30" fill="#0a18a6"/>
<rect x="339.50" y="948.75" width="16.20" height="0.90" fill="#8c9fe6"/>
<rect x="320.80" y="952.20" width="11.00" height="1.00" fill="#0a18a6"/>
<rect x="320.80" y="963.30" width="52.60" height="1.80" fill="#8c9fe6"/>
<rect x="354.90" y="963.75" width="18.50" height="1.10" fill="#0a18a6"/>
<rect x="320.80" y="966.10" width="29.20" height="0.80" fill="#8c9fe6"/>
<rect x="320.80" y="968.80" width="31.00" height="0.80" fill="#8c9fe6"/>
<rect x="320.80" y="972.60" width="54.10" height="1.60" fill="#8c9fe6"/>
<rect x="320.80" y="975.50" width="48.70" height="1.40" fill="#2f4ad6"/>
<rect x="320.80" y="979.15" width="24.10" height="0.90" fill="#2f4ad6"/>
<line x1="348.30" y1="722.40" x2="348.30" y2="982.00" stroke="#b8d8a2" stroke-width="0.85"/>
<rect x="320.30" y="722.40" width="132.30" height="259.60" fill="none" stroke="#555" stroke-width="0.9"/>
<rect x="310.40" y="722.40" width="7.80" height="21.49" fill="#fff"/>
<rect x="310.40" y="743.89" width="7.80" height="22.07" fill="#000"/>
<rect x="310.40" y="765.96" width="7.80" height="19.89" fill="#fff"/>
<rect x="310.40" y="785.85" width="7.80" height="16.82" fill="#000"/>
<rect x="310.40" y="802.67" width="7.80" height="17.47" fill="#fff"/>
<rect x="310.40" y="820.14" width="7.80" height="16.25" fill="#000"/>
<rect x="310.40" y="836.39" width="7.80" height="15.00" fill="#fff"/>
<rect x="310.40" y="851.40" width="7.80" height="13.94" fill="#000"/>
<rect x="310.40" y="865.34" width="7.80" height="12.51" fill="#fff"/>
<rect x="310.40" y="877.85" width="7.80" height="12.90" fill="#000"/>
<rect x="310.40" y="890.75" width="7.80" height="12.80" fill="#fff"/>
<rect x="310.40" y="903.55" width="7.80" height="13.71" fill="#000"/>
<rect x="310.40" y="917.26" width="7.80" height="8.85" fill="#fff"/>
<rect x="310.40" y="926.11" width="7.80" height="8.36" fill="#000"/>
<rect x="310.40" y="934.47" width="7.80" height="7.89" fill="#fff"/>
<rect x="310.40" y="942.36" width="7.80" height="7.63" fill="#000"/>
<rect x="310.40" y="949.99" width="7.80" height="7.63" fill="#fff"/>
<rect x="310.40" y="957.62" width="7.80" height="6.93" fill="#000"/>
<rect x="310.40" y="964.55" width="7.80" height="5.24" fill="#fff"/>
<rect x="310.40" y="969.80" width="7.80" height="6.49" fill="#000"/>
<rect x="310.40" y="976.29" width="7.80" height="2.73" fill="#fff"/>
<rect x="310.40" y="979.01" width="7.80" height="2.99" fill="#000"/>
<rect x="310.40" y="722.40" width="7.80" height="259.60" fill="none" stroke="#222" stroke-width="0.7"/>
<text x="288.60" y="735.45" font-size="5.3" text-anchor="end" fill="#111" stroke="#111" stroke-width="0.15">1</text>
<text x="302.30" y="757.23" font-size="5.3" text-anchor="end" fill="#111" stroke="#111" stroke-width="0.15">2</text>
<text x="288.60" y="778.20" font-size="5.3" text-anchor="end" fill="#111" stroke="#111" stroke-width="0.15">3</text>
<text x="302.30" y="796.56" font-size="5.3" text-anchor="end" fill="#111" stroke="#111" stroke-width="0.15">4</text>
<text x="288.60" y="813.70" font-size="5.3" text-anchor="end" fill="#111" stroke="#111" stroke-width="0.15">5</text>
<text x="302.30" y="830.56" font-size="5.3" text-anchor="end" fill="#111" stroke="#111" stroke-width="0.15">6</text>
<text x="288.60" y="846.19" font-size="5.3" text-anchor="end" fill="#111" stroke="#111" stroke-width="0.15">7</text>
<text x="302.30" y="860.67" font-size="5.3" text-anchor="end" fill="#111" stroke="#111" stroke-width="0.15">8</text>
<text x="288.60" y="873.89" font-size="5.3" text-anchor="end" fill="#111" stroke="#111" stroke-width="0.15">9</text>
<text x="302.30" y="886.60" font-size="5.3" text-anchor="end" fill="#111" stroke="#111" stroke-width="0.15">10</text>
<text x="288.60" y="899.45" font-size="5.3" text-anchor="end" fill="#111" stroke="#111" stroke-width="0.15">11</text>
<text x="302.30" y="912.70" font-size="5.3" text-anchor="end" fill="#111" stroke="#111" stroke-width="0.15">12</text>
<text x="288.60" y="923.98" font-size="5.3" text-anchor="end" fill="#111" stroke="#111" stroke-width="0.15">13</text>
<text x="302.30" y="932.59" font-size="5.3" text-anchor="end" fill="#111" stroke="#111" stroke-width="0.15">14</text>
<text x="288.60" y="940.71" font-size="5.3" text-anchor="end" fill="#111" stroke="#111" stroke-width="0.15">15</text>
<text x="302.30" y="948.48" font-size="5.3" text-anchor="end" fill="#111" stroke="#111" stroke-width="0.15">16</text>
<text x="288.60" y="956.11" font-size="5.3" text-anchor="end" fill="#111" stroke="#111" stroke-width="0.15">17</text>
<text x="302.30" y="963.39" font-size="5.3" text-anchor="end" fill="#111" stroke="#111" stroke-width="0.15">18</text>
<text x="288.60" y="969.48" font-size="5.3" text-anchor="end" fill="#111" stroke="#111" stroke-width="0.15">19</text>
<text x="302.30" y="975.34" font-size="5.3" text-anchor="end" fill="#111" stroke="#111" stroke-width="0.15">20</text>
<text x="288.60" y="979.95" font-size="5.3" text-anchor="end" fill="#111" stroke="#111" stroke-width="0.15">21</text>
<text x="302.30" y="982.81" font-size="5.3" text-anchor="end" fill="#111" stroke="#111" stroke-width="0.15">22</text>
<text x="351.80" y="720.50" font-size="5.3" text-anchor="middle" fill="#111" stroke="#111" stroke-width="0.1">0.075</text>
<line x1="351.80" y1="722.40" x2="351.80" y2="721.20" stroke="#555" stroke-width="0.6"/>
<text x="373.20" y="720.50" font-size="5.3" text-anchor="middle" fill="#111" stroke="#111" stroke-width="0.1">0.1</text>
<line x1="373.20" y1="722.40" x2="373.20" y2="721.20" stroke="#555" stroke-width="0.6"/>
<text x="423.20" y="720.50" font-size="5.3" text-anchor="middle" fill="#111" stroke="#111" stroke-width="0.1">0.2</text>
<line x1="423.20" y1="722.40" x2="423.20" y2="721.20" stroke="#555" stroke-width="0.6"/>
<text x="348.75" y="990.30" font-size="5.8" text-anchor="middle" fill="#111" stroke="#111" stroke-width="0.1">0.25</text>
<text x="362.75" y="990.30" font-size="5.5" text-anchor="middle" fill="#111" stroke="#111" stroke-width="0.1">10<tspan font-size="4.0" dx="0.7" dy="-2.4">-1</tspan></text>
<text x="386.60" y="990.30" font-size="5.5" text-anchor="middle" fill="#111" stroke="#111" stroke-width="0.1">10<tspan font-size="4.0" dx="0.7" dy="-2.4">-2</tspan></text>
<text x="404.50" y="990.30" font-size="5.5" text-anchor="middle" fill="#111" stroke="#111" stroke-width="0.1">10<tspan font-size="4.0" dx="0.7" dy="-2.4">-3</tspan></text>
<text x="429.10" y="990.30" font-size="5.5" text-anchor="middle" fill="#111" stroke="#111" stroke-width="0.1">10<tspan font-size="4.0" dx="0.7" dy="-2.4">-5</tspan></text>
<text x="453.60" y="990.30" font-size="5.5" text-anchor="middle" fill="#111" stroke="#111" stroke-width="0.1">10<tspan font-size="4.0" dx="0.7" dy="-2.4">-6</tspan></text>
<polyline points="452.60,731.50 457.80,731.50 468.20,732.50" fill="none" stroke="#333" stroke-width="0.6"/>
<text x="469.00" y="734.20" font-size="5.1" fill="#111" stroke="#111" stroke-width="0.1">1p13.2</text>
<polyline points="452.60,793.50 457.80,793.50 468.20,794.00" fill="none" stroke="#333" stroke-width="0.6"/>
<text x="469.00" y="795.70" font-size="5.1" fill="#111" stroke="#111" stroke-width="0.1">4q22.2</text>
<polyline points="452.60,830.10 457.80,830.10 468.20,830.70" fill="none" stroke="#333" stroke-width="0.6"/>
<text x="469.00" y="832.40" font-size="5.1" fill="#111" stroke="#111" stroke-width="0.1">6q21</text>
<polyline points="452.60,915.40 457.80,915.40 468.20,852.40" fill="none" stroke="#333" stroke-width="0.6"/>
<text x="469.00" y="854.10" font-size="5.1" fill="#111" stroke="#111" stroke-width="0.1">12q24.31</text>
<polyline points="452.60,920.90 457.80,920.90 468.20,864.20" fill="none" stroke="#333" stroke-width="0.6"/>
<text x="469.00" y="865.90" font-size="5.1" fill="#111" stroke="#111" stroke-width="0.1">13q21.2</text>
<polyline points="452.60,921.60 457.80,921.60 468.20,876.20" fill="none" stroke="#333" stroke-width="0.6"/>
<text x="469.00" y="877.90" font-size="5.1" fill="#111" stroke="#111" stroke-width="0.1">13q21.31</text>
<polyline points="452.60,922.40 457.80,922.40 468.20,887.70" fill="none" stroke="#333" stroke-width="0.6"/>
<text x="469.00" y="889.40" font-size="5.1" fill="#111" stroke="#111" stroke-width="0.1">13q21.33</text>
<polyline points="452.60,923.40 457.80,923.40 468.20,899.30" fill="none" stroke="#333" stroke-width="0.6"/>
<text x="469.00" y="901.00" font-size="5.1" fill="#111" stroke="#111" stroke-width="0.1">13q31.1</text>
<polyline points="452.60,924.20 457.80,924.20 468.20,911.50" fill="none" stroke="#333" stroke-width="0.6"/>
<text x="469.00" y="913.20" font-size="5.1" fill="#111" stroke="#111" stroke-width="0.1">13q33.1</text>
<polyline points="452.60,925.00 457.80,925.00 468.20,923.50" fill="none" stroke="#333" stroke-width="0.6"/>
<text x="469.00" y="925.20" font-size="5.1" fill="#111" stroke="#111" stroke-width="0.1">14q11.2</text>
<polyline points="452.60,950.00 457.80,950.00 468.20,935.50" fill="none" stroke="#333" stroke-width="0.6"/>
<text x="469.00" y="937.20" font-size="5.1" fill="#111" stroke="#111" stroke-width="0.1">17p13.1</text>
<polyline points="452.60,964.00 457.80,964.00 468.20,947.30" fill="none" stroke="#333" stroke-width="0.6"/>
<text x="469.00" y="949.00" font-size="5.1" fill="#111" stroke="#111" stroke-width="0.1">18q23</text>
<polyline points="452.60,969.70 457.80,969.70 468.20,958.80" fill="none" stroke="#333" stroke-width="0.6"/>
<text x="469.00" y="960.50" font-size="5.1" fill="#111" stroke="#111" stroke-width="0.1">20p13</text>
<polyline points="452.60,973.60 457.80,973.60 468.20,970.80" fill="none" stroke="#333" stroke-width="0.6"/>
<text x="469.00" y="972.50" font-size="5.1" fill="#111" stroke="#111" stroke-width="0.1">20q13.13</text>
<polyline points="452.60,975.00 457.80,975.00 468.20,982.30" fill="none" stroke="#333" stroke-width="0.6"/>
<text x="469.00" y="984.00" font-size="5.1" fill="#111" stroke="#111" stroke-width="0.1">21q21.1</text>
<text x="0.6" y="8.9" font-size="12.4" font-weight="bold" textLength="8.2" lengthAdjust="spacingAndGlyphs" fill="#000" stroke="#000" stroke-width="0.5">A</text>
<text x="36.9" y="374.7" font-size="12.4" font-weight="bold" textLength="7.2" lengthAdjust="spacingAndGlyphs" fill="#000" stroke="#000" stroke-width="0.4">B</text>
<text x="36.5" y="700.5" font-size="12.4" font-weight="bold" textLength="7.7" lengthAdjust="spacingAndGlyphs" fill="#000" stroke="#000" stroke-width="0.4">C</text>
<text x="118.5" y="385.1" font-size="11" textLength="31.8" lengthAdjust="spacingAndGlyphs" fill="#111" stroke="#111" stroke-width="0.28">GAINS</text>
<text x="370.2" y="384.8" font-size="10.8" textLength="36.3" lengthAdjust="spacingAndGlyphs" fill="#111" stroke="#111" stroke-width="0.28">LOSSES</text>
<text x="124.9" y="711.2" font-size="11" textLength="31.3" lengthAdjust="spacingAndGlyphs" fill="#111" stroke="#111" stroke-width="0.28">GAINS</text>
<text x="365.6" y="710.4" font-size="10.8" textLength="35.6" lengthAdjust="spacingAndGlyphs" fill="#111" stroke="#111" stroke-width="0.28">LOSSES</text>
<text x="247" y="373.7" font-size="11.4" font-weight="bold" textLength="25" lengthAdjust="spacingAndGlyphs" fill="#111" stroke="#111" stroke-width="0.2">ALCL</text>
<line x1="247" y1="375.6" x2="272" y2="375.6" stroke="#111" stroke-width="0.8"/>
<text x="236.3" y="700.1" font-size="11.2" font-weight="bold" textLength="48.2" lengthAdjust="spacingAndGlyphs" fill="#111" stroke="#111" stroke-width="0.2">ALK-ALCL</text>
<line x1="236.3" y1="702.1" x2="284.5" y2="702.1" stroke="#111" stroke-width="0.8"/>

</svg></body></html>
